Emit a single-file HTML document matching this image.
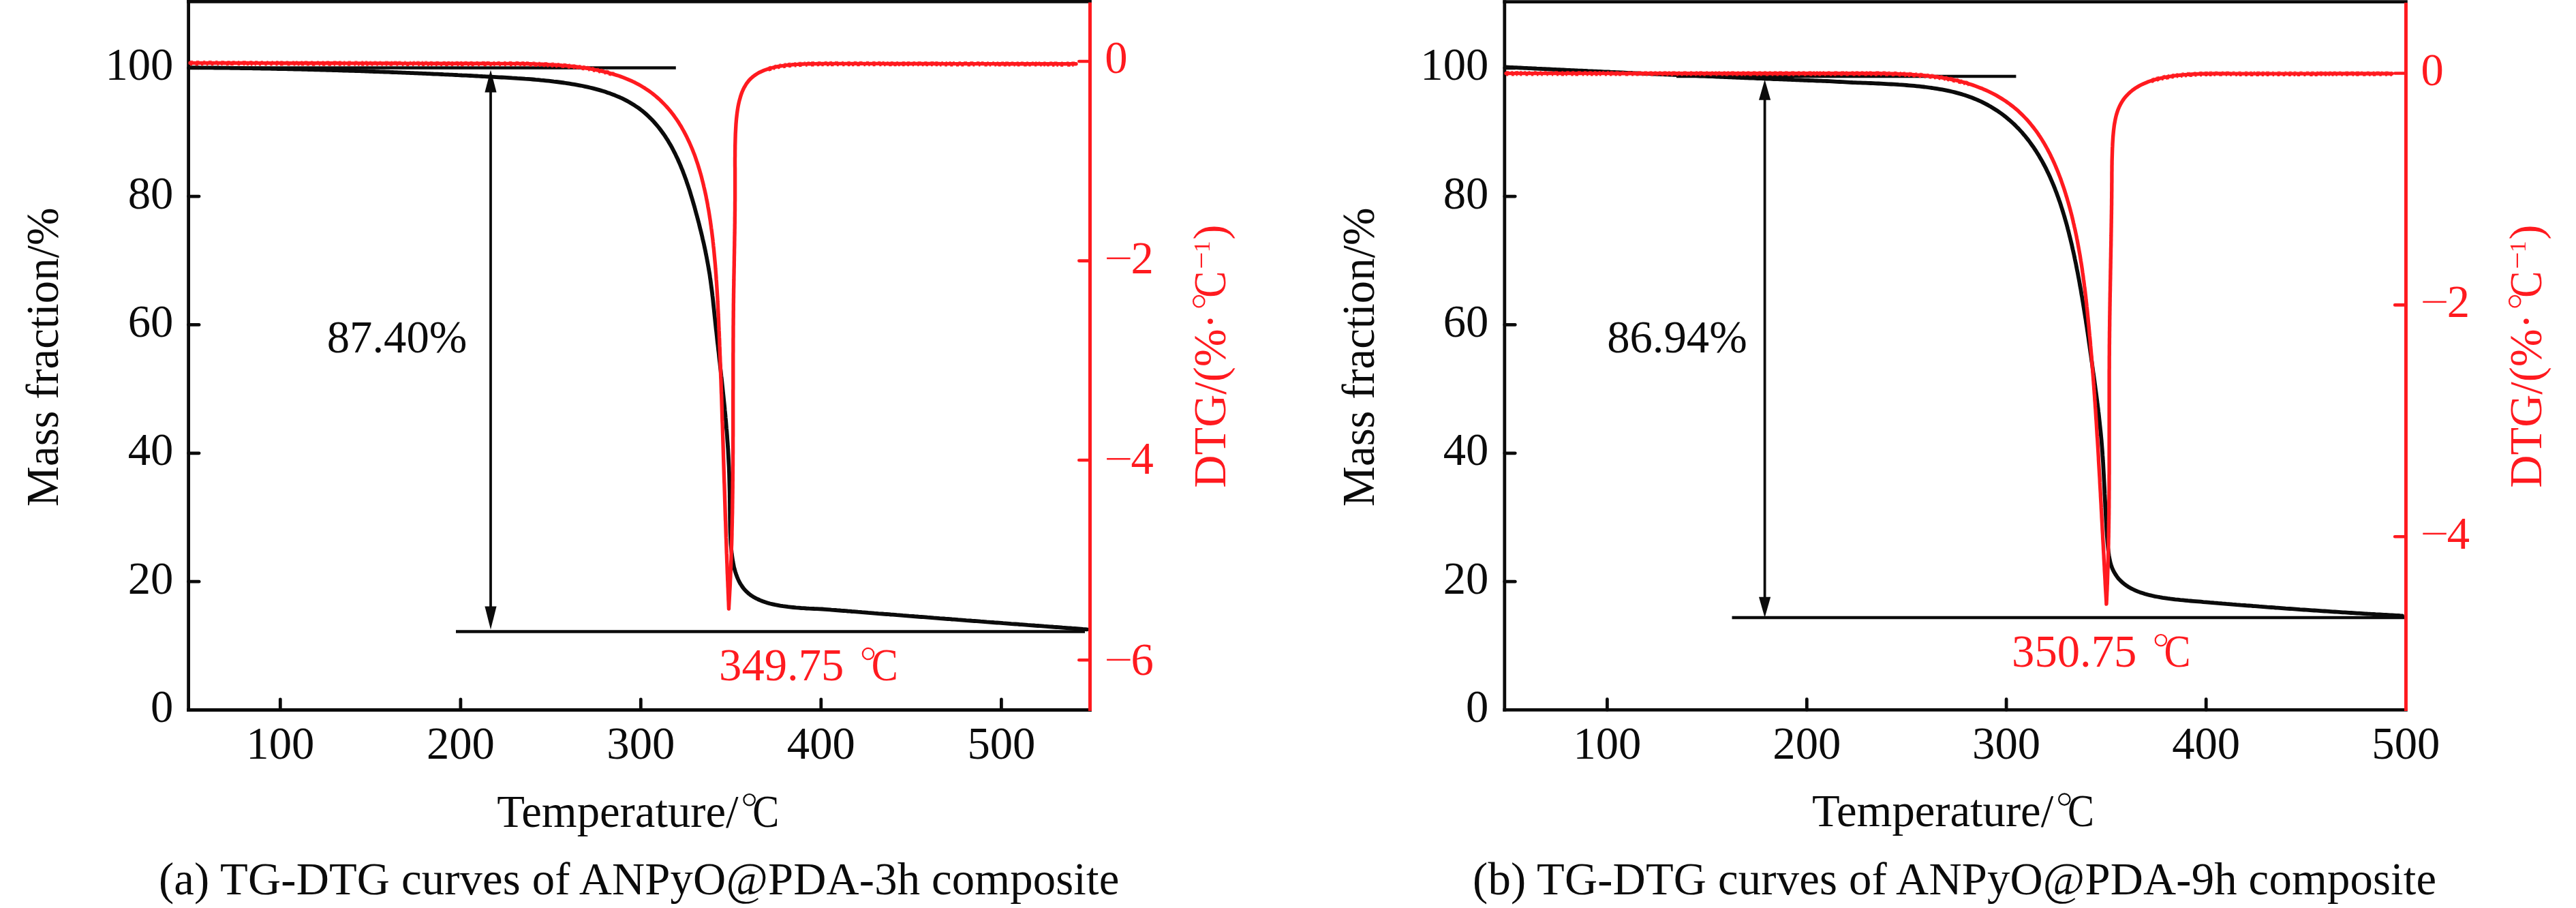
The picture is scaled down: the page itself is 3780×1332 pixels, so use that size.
<!DOCTYPE html>
<html><head><meta charset="utf-8"><title>TG-DTG curves</title><style>
html,body{margin:0;padding:0;background:#fff;overflow:hidden;width:3780px;height:1332px;}
svg{display:block;}
text{font-family:"Liberation Serif",serif;}
</style></head><body>
<svg width="3780" height="1332" viewBox="0 0 3780 1332">
<rect width="3780" height="1332" fill="#fff"/>
<g stroke-linecap="square" fill="none">
<line x1="276.60" y1="2.30" x2="1599.50" y2="2.30" stroke="#0b0b0b" stroke-width="4.80"/>
<line x1="276.60" y1="1041.50" x2="1599.50" y2="1041.50" stroke="#0b0b0b" stroke-width="4.80"/>
<line x1="276.60" y1="2.30" x2="276.60" y2="1041.50" stroke="#0b0b0b" stroke-width="4.80"/>
</g>
<line x1="1599.50" y1="3.80" x2="1599.50" y2="1043.00" stroke="#ff1a1f" stroke-width="4.80"/>
<g stroke="#0b0b0b" stroke-width="4.8" stroke-linecap="round">
<line x1="276.60" y1="853.15" x2="292.10" y2="853.15"/>
<line x1="276.60" y1="664.80" x2="292.10" y2="664.80"/>
<line x1="276.60" y1="476.45" x2="292.10" y2="476.45"/>
<line x1="276.60" y1="288.10" x2="292.10" y2="288.10"/>
<line x1="276.60" y1="99.75" x2="292.10" y2="99.75"/>
<line x1="411.30" y1="1041.50" x2="411.30" y2="1025.80"/>
<line x1="675.90" y1="1041.50" x2="675.90" y2="1025.80"/>
<line x1="940.30" y1="1041.50" x2="940.30" y2="1025.80"/>
<line x1="1204.80" y1="1041.50" x2="1204.80" y2="1025.80"/>
<line x1="1469.40" y1="1041.50" x2="1469.40" y2="1025.80"/>
</g>
<g stroke="#ff1a1f" stroke-width="4.6" stroke-linecap="round">
<line x1="1599.50" y1="90.00" x2="1583.30" y2="90.00"/>
<line x1="1599.50" y1="382.60" x2="1583.30" y2="382.60"/>
<line x1="1599.50" y1="675.00" x2="1583.30" y2="675.00"/>
<line x1="1599.50" y1="968.20" x2="1583.30" y2="968.20"/>
</g>
<text x="254.40" y="1059.10" fill="#0b0b0b" font-size="66.67" text-anchor="end">0</text>
<text x="254.40" y="870.75" fill="#0b0b0b" font-size="66.67" text-anchor="end">20</text>
<text x="254.40" y="682.40" fill="#0b0b0b" font-size="66.67" text-anchor="end">40</text>
<text x="254.40" y="494.05" fill="#0b0b0b" font-size="66.67" text-anchor="end">60</text>
<text x="254.40" y="305.70" fill="#0b0b0b" font-size="66.67" text-anchor="end">80</text>
<text x="254.40" y="117.35" fill="#0b0b0b" font-size="66.67" text-anchor="end">100</text>
<text x="411.30" y="1113.00" fill="#0b0b0b" font-size="66.67" text-anchor="middle">100</text>
<text x="675.90" y="1113.00" fill="#0b0b0b" font-size="66.67" text-anchor="middle">200</text>
<text x="940.30" y="1113.00" fill="#0b0b0b" font-size="66.67" text-anchor="middle">300</text>
<text x="1204.80" y="1113.00" fill="#0b0b0b" font-size="66.67" text-anchor="middle">400</text>
<text x="1469.40" y="1113.00" fill="#0b0b0b" font-size="66.67" text-anchor="middle">500</text>
<text x="1621.30" y="107.40" fill="#ff1a1f" font-size="66.67" text-anchor="start">0</text>
<rect x="1624.10" y="377.65" width="34.5" height="2.5" fill="#ff1a1f"/>
<text x="1659.60" y="401.00" fill="#ff1a1f" font-size="66.67" text-anchor="start">2</text>
<rect x="1624.10" y="671.95" width="34.5" height="2.5" fill="#ff1a1f"/>
<text x="1659.60" y="695.30" fill="#ff1a1f" font-size="66.67" text-anchor="start">4</text>
<rect x="1624.10" y="966.65" width="34.5" height="2.5" fill="#ff1a1f"/>
<text x="1659.60" y="990.00" fill="#ff1a1f" font-size="66.67" text-anchor="start">6</text>
<g stroke-linecap="square" fill="none">
<line x1="2207.80" y1="2.60" x2="3530.40" y2="2.60" stroke="#0b0b0b" stroke-width="4.80"/>
<line x1="2207.80" y1="1041.40" x2="3530.40" y2="1041.40" stroke="#0b0b0b" stroke-width="4.80"/>
<line x1="2207.80" y1="2.60" x2="2207.80" y2="1041.40" stroke="#0b0b0b" stroke-width="4.80"/>
</g>
<line x1="3530.40" y1="4.10" x2="3530.40" y2="1042.90" stroke="#ff1a1f" stroke-width="4.80"/>
<g stroke="#0b0b0b" stroke-width="4.8" stroke-linecap="round">
<line x1="2207.80" y1="853.15" x2="2223.30" y2="853.15"/>
<line x1="2207.80" y1="664.80" x2="2223.30" y2="664.80"/>
<line x1="2207.80" y1="476.45" x2="2223.30" y2="476.45"/>
<line x1="2207.80" y1="288.10" x2="2223.30" y2="288.10"/>
<line x1="2207.80" y1="99.75" x2="2223.30" y2="99.75"/>
<line x1="2358.40" y1="1041.40" x2="2358.40" y2="1025.70"/>
<line x1="2651.30" y1="1041.40" x2="2651.30" y2="1025.70"/>
<line x1="2944.10" y1="1041.40" x2="2944.10" y2="1025.70"/>
<line x1="3237.20" y1="1041.40" x2="3237.20" y2="1025.70"/>
</g>
<g stroke="#ff1a1f" stroke-width="4.6" stroke-linecap="round">
<line x1="3530.40" y1="107.50" x2="3514.20" y2="107.50"/>
<line x1="3530.40" y1="447.40" x2="3514.20" y2="447.40"/>
<line x1="3530.40" y1="787.30" x2="3514.20" y2="787.30"/>
</g>
<text x="2184.30" y="1059.10" fill="#0b0b0b" font-size="66.67" text-anchor="end">0</text>
<text x="2184.30" y="870.75" fill="#0b0b0b" font-size="66.67" text-anchor="end">20</text>
<text x="2184.30" y="682.40" fill="#0b0b0b" font-size="66.67" text-anchor="end">40</text>
<text x="2184.30" y="494.05" fill="#0b0b0b" font-size="66.67" text-anchor="end">60</text>
<text x="2184.30" y="305.70" fill="#0b0b0b" font-size="66.67" text-anchor="end">80</text>
<text x="2184.30" y="117.35" fill="#0b0b0b" font-size="66.67" text-anchor="end">100</text>
<text x="2358.40" y="1113.00" fill="#0b0b0b" font-size="66.67" text-anchor="middle">100</text>
<text x="2651.30" y="1113.00" fill="#0b0b0b" font-size="66.67" text-anchor="middle">200</text>
<text x="2944.10" y="1113.00" fill="#0b0b0b" font-size="66.67" text-anchor="middle">300</text>
<text x="3237.20" y="1113.00" fill="#0b0b0b" font-size="66.67" text-anchor="middle">400</text>
<text x="3530.30" y="1113.00" fill="#0b0b0b" font-size="66.67" text-anchor="middle">500</text>
<text x="3552.50" y="125.00" fill="#ff1a1f" font-size="66.67" text-anchor="start">0</text>
<rect x="3555.30" y="441.65" width="34.5" height="2.5" fill="#ff1a1f"/>
<text x="3590.80" y="465.00" fill="#ff1a1f" font-size="66.67" text-anchor="start">2</text>
<rect x="3555.30" y="781.65" width="34.5" height="2.5" fill="#ff1a1f"/>
<text x="3590.80" y="805.00" fill="#ff1a1f" font-size="66.67" text-anchor="start">4</text>
<g stroke="#0b0b0b" stroke-width="4.5" stroke-linecap="butt">
<line x1="279" y1="99.4" x2="991.8" y2="99.4"/>
<line x1="669" y1="926.4" x2="1592" y2="926.4"/>
<line x1="2460" y1="112.1" x2="2958.4" y2="112.1"/>
<line x1="2541.5" y1="906.1" x2="3528" y2="906.1"/>
</g>
<path d="M279.0,99.1 L282.0,99.2 L285.0,99.2 L288.0,99.2 L291.0,99.2 L294.0,99.3 L297.0,99.3 L300.0,99.3 L303.0,99.3 L306.0,99.4 L309.0,99.4 L312.0,99.4 L315.0,99.5 L318.0,99.5 L321.0,99.5 L324.0,99.6 L327.0,99.6 L330.0,99.7 L333.0,99.7 L336.0,99.7 L339.0,99.8 L342.0,99.8 L345.0,99.9 L348.0,99.9 L351.0,99.9 L354.0,100.0 L357.0,100.0 L360.0,100.1 L363.0,100.1 L366.0,100.2 L369.0,100.2 L372.0,100.3 L375.0,100.3 L378.0,100.4 L381.0,100.4 L384.0,100.5 L387.0,100.6 L390.0,100.6 L393.0,100.7 L396.0,100.7 L399.0,100.8 L402.0,100.8 L405.0,100.9 L408.0,101.0 L411.0,101.0 L414.0,101.1 L417.0,101.2 L420.0,101.2 L423.0,101.3 L426.0,101.4 L429.0,101.4 L432.0,101.5 L435.0,101.6 L438.0,101.6 L441.0,101.7 L444.0,101.8 L447.0,101.9 L450.0,101.9 L453.0,102.0 L456.0,102.1 L459.0,102.2 L462.0,102.3 L465.0,102.3 L468.0,102.4 L471.0,102.5 L474.0,102.6 L477.0,102.7 L480.0,102.8 L483.0,102.8 L486.0,102.9 L489.0,103.0 L492.0,103.1 L495.0,103.2 L498.0,103.3 L501.0,103.4 L504.0,103.5 L507.0,103.6 L510.0,103.7 L513.0,103.8 L516.0,103.8 L519.0,103.9 L522.0,104.0 L525.0,104.1 L528.0,104.2 L531.0,104.3 L534.0,104.4 L537.0,104.5 L540.0,104.7 L543.0,104.8 L546.0,104.9 L549.0,105.0 L552.0,105.1 L555.0,105.2 L558.0,105.3 L561.0,105.4 L564.0,105.5 L567.0,105.6 L570.0,105.7 L573.0,105.9 L576.0,106.0 L579.0,106.1 L582.0,106.2 L585.0,106.3 L588.0,106.4 L591.0,106.6 L594.0,106.7 L597.0,106.8 L600.0,106.9 L603.0,107.1 L606.0,107.2 L609.0,107.3 L612.0,107.4 L615.0,107.6 L618.0,107.7 L621.0,107.8 L624.0,107.9 L627.0,108.1 L630.0,108.2 L633.0,108.3 L636.0,108.5 L639.0,108.6 L642.0,108.7 L645.0,108.9 L648.0,109.0 L651.0,109.2 L654.0,109.3 L657.0,109.4 L660.0,109.6 L663.0,109.7 L666.0,109.9 L669.0,110.0 L672.0,110.2 L675.0,110.3 L678.0,110.5 L681.0,110.6 L684.0,110.7 L687.0,110.9 L690.0,111.0 L693.0,111.2 L696.0,111.4 L699.0,111.5 L702.0,111.7 L705.0,111.8 L708.0,112.0 L711.0,112.1 L714.0,112.3 L717.0,112.5 L720.8,112.7 L724.6,112.9 L728.4,113.1 L732.3,113.3 L736.1,113.5 L739.9,113.7 L743.8,113.9 L747.6,114.1 L751.5,114.4 L755.3,114.6 L759.1,114.9 L763.0,115.1 L766.8,115.4 L770.6,115.7 L774.5,115.9 L778.3,116.2 L782.1,116.5 L785.9,116.9 L789.8,117.2 L793.6,117.6 L797.4,117.9 L801.2,118.3 L805.1,118.7 L808.9,119.1 L812.7,119.6 L816.5,120.0 L820.3,120.5 L824.1,121.0 L827.9,121.5 L831.7,122.1 L835.5,122.7 L839.3,123.3 L843.1,123.9 L846.9,124.6 L850.7,125.3 L854.5,126.0 L858.2,126.8 L862.0,127.6 L865.7,128.5 L869.4,129.4 L873.2,130.4 L876.9,131.4 L880.6,132.4 L884.3,133.5 L887.9,134.6 L891.6,135.9 L895.2,137.1 L898.8,138.5 L902.4,139.8 L905.9,141.3 L909.5,142.8 L913.0,144.4 L916.4,146.1 L919.8,147.9 L923.2,149.7 L926.5,151.7 L929.8,153.7 L933.0,155.8 L936.2,157.9 L939.3,160.2 L942.3,162.6 L945.3,165.0 L948.2,167.5 L951.0,170.1 L953.8,172.8 L956.5,175.5 L959.1,178.3 L961.7,181.2 L964.2,184.1 L966.6,187.0 L969.0,190.1 L971.3,193.2 L973.5,196.3 L975.7,199.4 L977.8,202.7 L979.9,205.9 L981.8,209.2 L983.8,212.5 L985.7,215.9 L987.5,219.3 L989.2,222.7 L991.0,226.1 L992.6,229.6 L994.3,233.0 L995.8,236.5 L997.4,240.1 L998.9,243.6 L1000.3,247.2 L1001.8,250.7 L1003.1,254.3 L1004.5,257.9 L1005.8,261.5 L1007.1,265.1 L1008.3,268.8 L1009.6,272.4 L1010.8,276.1 L1012.0,279.7 L1013.1,283.4 L1014.2,287.1 L1015.3,290.7 L1016.4,294.4 L1017.5,298.1 L1018.6,301.8 L1019.6,305.5 L1020.6,309.2 L1021.6,312.9 L1022.6,316.6 L1023.6,320.3 L1024.6,324.1 L1025.6,327.8 L1026.5,331.5 L1027.4,335.2 L1028.4,339.0 L1029.3,342.7 L1030.2,346.4 L1031.0,350.2 L1031.9,353.9 L1032.8,357.7 L1033.6,361.4 L1034.4,365.2 L1035.2,368.9 L1035.9,372.7 L1036.7,376.5 L1037.4,380.2 L1038.1,384.0 L1038.8,387.8 L1039.5,391.6 L1040.1,395.4 L1040.8,399.2 L1041.4,402.9 L1041.9,406.7 L1042.5,410.5 L1043.0,414.4 L1043.5,418.2 L1044.0,422.0 L1044.5,425.8 L1045.0,429.6 L1045.4,433.4 L1045.9,437.2 L1046.3,441.0 L1046.7,444.9 L1047.1,448.7 L1047.5,452.5 L1047.9,456.3 L1048.3,460.1 L1048.7,464.0 L1049.1,467.8 L1049.5,471.6 L1049.9,475.4 L1050.3,479.3 L1050.7,483.1 L1051.2,486.9 L1051.6,490.7 L1052.0,494.5 L1052.4,498.4 L1052.8,502.2 L1053.3,506.0 L1053.7,509.8 L1054.1,513.6 L1054.6,517.4 L1055.0,521.3 L1055.4,525.1 L1055.8,528.9 L1056.3,532.7 L1056.7,536.5 L1057.1,540.4 L1057.6,544.2 L1058.0,548.0 L1058.4,551.8 L1058.9,555.6 L1059.3,559.4 L1059.7,563.3 L1060.1,567.1 L1060.5,570.9 L1060.9,574.7 L1061.3,578.5 L1061.7,582.4 L1062.1,586.2 L1062.5,590.0 L1062.9,593.8 L1063.3,597.7 L1063.6,601.5 L1064.0,605.3 L1064.4,609.1 L1064.7,613.0 L1065.1,616.8 L1065.4,620.6 L1065.7,624.4 L1066.0,628.3 L1066.4,632.1 L1066.7,635.9 L1067.0,639.8 L1067.2,643.6 L1067.5,647.4 L1067.8,651.3 L1068.0,655.1 L1068.3,658.9 L1068.5,662.8 L1068.7,666.6 L1068.9,670.4 L1069.1,674.3 L1069.3,678.1 L1069.5,681.9 L1069.7,685.8 L1069.8,689.6 L1070.0,693.5 L1070.1,697.3 L1070.2,701.1 L1070.3,705.0 L1070.4,708.8 L1070.5,712.7 L1070.6,716.5 L1070.7,720.4 L1070.8,724.2 L1070.8,728.0 L1070.9,731.9 L1070.9,735.7 L1071.0,739.6 L1071.0,743.4 L1071.0,747.2 L1071.1,751.1 L1071.1,754.9 L1071.1,758.8 L1071.2,762.6 L1071.3,766.5 L1071.3,770.3 L1071.4,774.1 L1071.5,778.0 L1071.6,781.8 L1071.8,785.7 L1072.0,789.5 L1072.2,793.3 L1072.4,797.2 L1072.7,801.0 L1073.0,804.8 L1073.4,808.7 L1073.8,812.5 L1074.3,816.3 L1074.9,820.1 L1075.5,823.9 L1076.2,827.6 L1077.0,831.4 L1077.9,835.1 L1079.0,838.8 L1080.2,842.5 L1081.5,846.1 L1083.0,849.6 L1084.6,853.1 L1086.5,856.5 L1088.6,859.7 L1090.8,862.8 L1093.3,865.7 L1096.0,868.4 L1098.9,871.0 L1102.0,873.3 L1105.2,875.4 L1108.5,877.3 L1112.0,879.0 L1115.5,880.6 L1119.0,882.0 L1122.7,883.3 L1126.3,884.4 L1130.0,885.5 L1133.8,886.4 L1137.5,887.2 L1141.3,887.9 L1145.1,888.6 L1148.9,889.2 L1152.7,889.7 L1156.5,890.2 L1160.3,890.6 L1164.1,891.0 L1168.0,891.4 L1171.8,891.7 L1175.6,892.0 L1179.5,892.2 L1183.3,892.5 L1187.1,892.7 L1191.0,892.8 L1194.8,893.0 L1198.6,893.1 L1202.5,893.3 L1206.3,893.5 L1210.1,893.8 L1214.0,894.1 L1217.8,894.4 L1220.0,894.6 L1223.0,894.8 L1226.0,895.0 L1229.0,895.3 L1232.0,895.5 L1235.0,895.8 L1238.0,896.0 L1241.0,896.2 L1244.0,896.5 L1247.0,896.7 L1250.0,897.0 L1253.0,897.2 L1256.0,897.4 L1259.0,897.7 L1262.0,897.9 L1265.0,898.2 L1268.0,898.4 L1271.0,898.6 L1274.0,898.9 L1277.0,899.1 L1280.0,899.3 L1283.0,899.6 L1286.0,899.8 L1289.0,900.1 L1292.0,900.3 L1295.0,900.5 L1298.0,900.8 L1301.0,901.0 L1304.0,901.2 L1307.0,901.5 L1310.0,901.7 L1313.0,901.9 L1316.0,902.2 L1319.0,902.4 L1322.0,902.6 L1325.0,902.9 L1328.0,903.1 L1331.0,903.3 L1334.0,903.6 L1337.0,903.8 L1340.0,904.0 L1343.0,904.3 L1346.0,904.5 L1349.0,904.8 L1352.0,905.0 L1355.0,905.2 L1358.0,905.4 L1361.0,905.7 L1364.0,905.9 L1367.0,906.1 L1370.0,906.4 L1373.0,906.6 L1376.0,906.8 L1379.0,907.1 L1382.0,907.3 L1385.0,907.5 L1388.0,907.8 L1391.0,908.0 L1394.0,908.2 L1397.0,908.5 L1400.0,908.7 L1403.0,908.9 L1406.0,909.2 L1409.0,909.4 L1412.0,909.6 L1415.0,909.8 L1418.0,910.1 L1421.0,910.3 L1424.0,910.5 L1427.0,910.8 L1430.0,911.0 L1433.0,911.2 L1436.0,911.4 L1439.0,911.7 L1442.0,911.9 L1445.0,912.1 L1448.0,912.4 L1451.0,912.6 L1454.0,912.8 L1457.0,913.0 L1460.0,913.3 L1463.0,913.5 L1466.0,913.7 L1469.0,913.9 L1472.0,914.2 L1475.0,914.4 L1478.0,914.6 L1481.0,914.8 L1484.0,915.1 L1487.0,915.3 L1490.0,915.5 L1493.0,915.7 L1496.0,916.0 L1499.0,916.2 L1502.0,916.4 L1505.0,916.6 L1508.0,916.9 L1511.0,917.1 L1514.0,917.3 L1517.0,917.5 L1520.0,917.8 L1523.0,918.0 L1526.0,918.2 L1529.0,918.4 L1532.0,918.7 L1535.0,918.9 L1538.0,919.1 L1541.0,919.3 L1544.0,919.5 L1547.0,919.8 L1550.0,920.0 L1553.0,920.2 L1556.0,920.4 L1559.0,920.7 L1562.0,920.9 L1565.0,921.1 L1568.0,921.3 L1571.0,921.5 L1574.0,921.8 L1577.0,922.0 L1580.0,922.2 L1583.0,922.4 L1586.0,922.6 L1589.0,922.9 L1592.0,923.1 L1595.0,923.3" fill="none" stroke="#0b0b0b" stroke-width="5.80" stroke-linejoin="round" stroke-linecap="round"/>
<path d="M2210.0,98.5 L2213.0,98.6 L2216.0,98.8 L2219.0,98.9 L2222.0,99.1 L2225.0,99.2 L2228.0,99.4 L2231.0,99.5 L2234.0,99.6 L2237.0,99.8 L2240.0,99.9 L2243.0,100.1 L2246.0,100.2 L2249.0,100.4 L2252.0,100.5 L2255.0,100.7 L2258.0,100.8 L2261.0,100.9 L2264.0,101.1 L2267.0,101.2 L2270.0,101.4 L2273.0,101.5 L2276.0,101.6 L2279.0,101.8 L2282.0,101.9 L2285.0,102.1 L2288.0,102.2 L2291.0,102.4 L2294.0,102.5 L2297.0,102.6 L2300.0,102.8 L2303.0,102.9 L2306.0,103.1 L2309.0,103.2 L2312.0,103.3 L2315.0,103.5 L2318.0,103.6 L2321.0,103.7 L2324.0,103.9 L2327.0,104.0 L2330.0,104.2 L2333.0,104.3 L2336.0,104.4 L2339.0,104.6 L2342.0,104.7 L2345.0,104.9 L2348.0,105.0 L2351.0,105.1 L2354.0,105.3 L2357.0,105.4 L2360.0,105.5 L2363.0,105.7 L2366.0,105.8 L2369.0,105.9 L2372.0,106.1 L2375.0,106.2 L2378.0,106.4 L2381.0,106.5 L2384.0,106.6 L2387.0,106.8 L2390.0,106.9 L2393.0,107.0 L2396.0,107.2 L2399.0,107.3 L2402.0,107.4 L2405.0,107.6 L2408.0,107.7 L2411.0,107.8 L2414.0,108.0 L2417.0,108.1 L2420.0,108.2 L2423.0,108.4 L2426.0,108.5 L2429.0,108.6 L2432.0,108.8 L2435.0,108.9 L2438.0,109.0 L2441.0,109.1 L2444.0,109.3 L2447.0,109.4 L2450.0,109.5 L2453.0,109.7 L2456.0,109.8 L2459.0,109.9 L2462.0,110.1 L2465.0,110.2 L2468.0,110.3 L2471.0,110.5 L2474.0,110.6 L2477.0,110.7 L2480.0,110.8 L2483.0,111.0 L2486.0,111.1 L2489.0,111.2 L2492.0,111.4 L2495.0,111.5 L2498.0,111.6 L2501.0,111.7 L2504.0,111.9 L2507.0,112.0 L2510.0,112.1 L2513.0,112.2 L2516.0,112.4 L2519.0,112.5 L2522.0,112.6 L2525.0,112.8 L2528.0,112.9 L2531.0,113.0 L2534.0,113.1 L2537.0,113.3 L2540.0,113.4 L2543.0,113.5 L2546.0,113.6 L2549.0,113.8 L2552.0,113.9 L2555.0,114.0 L2558.0,114.1 L2561.0,114.3 L2564.0,114.4 L2567.0,114.5 L2570.0,114.6 L2573.0,114.7 L2576.0,114.9 L2579.0,115.0 L2582.0,115.1 L2585.0,115.2 L2588.0,115.4 L2591.0,115.5 L2594.0,115.6 L2597.0,115.7 L2600.0,115.8 L2603.0,116.0 L2606.0,116.1 L2609.0,116.2 L2612.0,116.3 L2615.0,116.4 L2618.0,116.6 L2621.0,116.7 L2624.0,116.8 L2627.0,116.9 L2630.0,117.0 L2633.0,117.2 L2636.0,117.3 L2639.0,117.4 L2642.0,117.5 L2645.0,117.6 L2648.0,117.8 L2651.0,117.9 L2654.0,118.0 L2657.0,118.1 L2660.0,118.2 L2663.0,118.4 L2666.0,118.5 L2669.0,118.6 L2672.0,118.7 L2675.0,118.8 L2678.0,118.9 L2680.8,119.0 L2684.6,119.2 L2688.3,119.4 L2692.1,119.6 L2695.9,119.8 L2699.6,120.0 L2703.4,120.2 L2707.2,120.4 L2710.9,120.6 L2714.7,120.8 L2718.5,121.0 L2722.2,121.1 L2726.0,121.3 L2729.8,121.4 L2733.6,121.6 L2737.3,121.7 L2741.1,121.9 L2744.9,122.0 L2748.6,122.2 L2752.4,122.4 L2756.2,122.5 L2759.9,122.7 L2763.7,122.9 L2767.5,123.1 L2771.2,123.3 L2775.0,123.5 L2778.8,123.7 L2782.5,123.9 L2786.3,124.2 L2790.1,124.4 L2793.8,124.7 L2797.6,125.0 L2801.3,125.3 L2805.1,125.6 L2808.8,125.9 L2812.6,126.3 L2816.4,126.7 L2820.1,127.1 L2823.9,127.5 L2827.6,128.0 L2831.3,128.5 L2835.1,129.0 L2838.8,129.6 L2842.5,130.2 L2846.2,130.8 L2850.0,131.4 L2853.7,132.1 L2857.4,132.9 L2861.0,133.7 L2864.7,134.5 L2868.4,135.4 L2872.0,136.4 L2875.7,137.4 L2879.3,138.4 L2882.9,139.5 L2886.5,140.7 L2890.0,142.0 L2893.6,143.3 L2897.1,144.7 L2900.6,146.1 L2904.0,147.7 L2907.4,149.2 L2910.8,150.9 L2914.2,152.6 L2917.5,154.4 L2920.8,156.3 L2924.0,158.2 L2927.2,160.2 L2930.4,162.2 L2933.5,164.3 L2936.6,166.5 L2939.6,168.8 L2942.6,171.1 L2945.5,173.5 L2948.4,175.9 L2951.2,178.4 L2954.0,180.9 L2956.8,183.5 L2959.4,186.2 L2962.1,188.9 L2964.6,191.6 L2967.2,194.4 L2969.6,197.3 L2972.1,200.2 L2974.4,203.1 L2976.8,206.1 L2979.0,209.1 L2981.2,212.2 L2983.4,215.2 L2985.5,218.4 L2987.6,221.5 L2989.6,224.7 L2991.6,227.9 L2993.5,231.2 L2995.4,234.4 L2997.2,237.7 L2999.0,241.0 L3000.8,244.4 L3002.5,247.7 L3004.1,251.1 L3005.8,254.5 L3007.4,257.9 L3008.9,261.4 L3010.4,264.8 L3011.9,268.3 L3013.4,271.8 L3014.8,275.3 L3016.1,278.8 L3017.5,282.3 L3018.8,285.9 L3020.1,289.4 L3021.3,293.0 L3022.6,296.5 L3023.8,300.1 L3024.9,303.7 L3026.1,307.3 L3027.2,310.9 L3028.3,314.5 L3029.4,318.1 L3030.4,321.7 L3031.5,325.4 L3032.5,329.0 L3033.5,332.6 L3034.4,336.3 L3035.4,339.9 L3036.3,343.6 L3037.2,347.2 L3038.1,350.9 L3039.0,354.6 L3039.9,358.2 L3040.7,361.9 L3041.5,365.6 L3042.4,369.3 L3043.2,373.0 L3044.0,376.6 L3044.7,380.3 L3045.5,384.0 L3046.3,387.7 L3047.0,391.4 L3047.7,395.1 L3048.5,398.8 L3049.2,402.5 L3049.9,406.2 L3050.6,409.9 L3051.3,413.6 L3051.9,417.4 L3052.6,421.1 L3053.3,424.8 L3053.9,428.5 L3054.5,432.2 L3055.2,435.9 L3055.8,439.7 L3056.4,443.4 L3057.0,447.1 L3057.6,450.8 L3058.2,454.5 L3058.8,458.3 L3059.4,462.0 L3060.0,465.7 L3060.6,469.4 L3061.1,473.2 L3061.7,476.9 L3062.3,480.6 L3062.8,484.4 L3063.4,488.1 L3063.9,491.8 L3064.5,495.6 L3065.0,499.3 L3065.5,503.0 L3066.1,506.8 L3066.6,510.5 L3067.1,514.2 L3067.7,518.0 L3068.2,521.7 L3068.7,525.4 L3069.2,529.2 L3069.8,532.9 L3070.3,536.6 L3070.8,540.4 L3071.3,544.1 L3071.8,547.8 L3072.4,551.6 L3072.9,555.3 L3073.4,559.0 L3073.9,562.8 L3074.4,566.5 L3074.9,570.3 L3075.4,574.0 L3075.9,577.7 L3076.4,581.5 L3076.9,585.2 L3077.4,589.0 L3077.8,592.7 L3078.3,596.4 L3078.8,600.2 L3079.2,603.9 L3079.7,607.7 L3080.1,611.4 L3080.5,615.2 L3080.9,618.9 L3081.3,622.7 L3081.7,626.4 L3082.1,630.2 L3082.5,633.9 L3082.9,637.7 L3083.2,641.4 L3083.6,645.2 L3083.9,648.9 L3084.2,652.7 L3084.5,656.5 L3084.8,660.2 L3085.1,664.0 L3085.3,667.7 L3085.6,671.5 L3085.8,675.3 L3086.1,679.0 L3086.3,682.8 L3086.5,686.6 L3086.7,690.3 L3086.9,694.1 L3087.1,697.9 L3087.3,701.6 L3087.5,705.4 L3087.7,709.2 L3087.9,712.9 L3088.1,716.7 L3088.3,720.5 L3088.4,724.2 L3088.6,728.0 L3088.8,731.8 L3089.0,735.5 L3089.2,739.3 L3089.3,743.1 L3089.5,746.8 L3089.7,750.6 L3089.9,754.4 L3090.1,758.1 L3090.3,761.9 L3090.5,765.7 L3090.8,769.4 L3091.0,773.2 L3091.2,777.0 L3091.5,780.7 L3091.7,784.5 L3092.0,788.2 L3092.3,792.0 L3092.6,795.8 L3092.9,799.5 L3093.2,803.3 L3093.6,807.0 L3094.1,810.8 L3094.6,814.5 L3095.2,818.2 L3096.0,821.9 L3096.8,825.6 L3097.9,829.2 L3099.2,832.8 L3100.6,836.2 L3102.4,839.6 L3104.3,842.8 L3106.5,845.9 L3108.8,848.9 L3111.4,851.6 L3114.1,854.2 L3117.0,856.6 L3120.1,858.8 L3123.2,860.9 L3126.5,862.8 L3129.9,864.5 L3133.3,866.1 L3136.8,867.6 L3140.3,868.9 L3143.9,870.1 L3147.5,871.2 L3151.1,872.2 L3154.8,873.2 L3158.4,874.0 L3162.1,874.8 L3165.8,875.5 L3169.5,876.2 L3173.3,876.8 L3177.0,877.3 L3180.7,877.9 L3184.5,878.4 L3188.2,878.8 L3191.9,879.3 L3195.7,879.7 L3199.4,880.1 L3203.2,880.4 L3207.0,880.8 L3210.7,881.2 L3214.5,881.5 L3218.2,881.8 L3222.0,882.1 L3225.7,882.4 L3229.5,882.7 L3233.2,883.1 L3237.0,883.4 L3240.0,883.6 L3243.0,883.9 L3246.0,884.1 L3249.0,884.4 L3252.0,884.6 L3255.0,884.9 L3258.0,885.1 L3261.0,885.4 L3264.0,885.6 L3267.0,885.9 L3270.0,886.1 L3273.0,886.3 L3276.0,886.6 L3279.0,886.8 L3282.0,887.1 L3285.0,887.3 L3288.0,887.6 L3291.0,887.8 L3294.0,888.0 L3297.0,888.3 L3300.0,888.5 L3303.0,888.7 L3306.0,889.0 L3309.0,889.2 L3312.0,889.4 L3315.0,889.7 L3318.0,889.9 L3321.0,890.1 L3324.0,890.3 L3327.0,890.6 L3330.0,890.8 L3333.0,891.0 L3336.0,891.2 L3339.0,891.5 L3342.0,891.7 L3345.0,891.9 L3348.0,892.1 L3351.0,892.3 L3354.0,892.6 L3357.0,892.8 L3360.0,893.0 L3363.0,893.2 L3366.0,893.4 L3369.0,893.6 L3372.0,893.8 L3375.0,894.1 L3378.0,894.3 L3381.0,894.5 L3384.0,894.7 L3387.0,894.9 L3390.0,895.1 L3393.0,895.3 L3396.0,895.5 L3399.0,895.7 L3402.0,895.9 L3405.0,896.1 L3408.0,896.3 L3411.0,896.5 L3414.0,896.7 L3417.0,896.9 L3420.0,897.1 L3423.0,897.3 L3426.0,897.5 L3429.0,897.7 L3432.0,897.9 L3435.0,898.1 L3438.0,898.3 L3441.0,898.4 L3444.0,898.6 L3447.0,898.8 L3450.0,899.0 L3453.0,899.2 L3456.0,899.4 L3459.0,899.6 L3462.0,899.7 L3465.0,899.9 L3468.0,900.1 L3471.0,900.3 L3474.0,900.5 L3477.0,900.6 L3480.0,900.8 L3483.0,901.0 L3486.0,901.2 L3489.0,901.3 L3492.0,901.5 L3495.0,901.7 L3498.0,901.9 L3501.0,902.0 L3504.0,902.2 L3507.0,902.4 L3510.0,902.5 L3513.0,902.7 L3516.0,902.9 L3519.0,903.0 L3522.0,903.2 L3525.0,903.3" fill="none" stroke="#0b0b0b" stroke-width="5.80" stroke-linejoin="round" stroke-linecap="round"/>
<path d="M279.0,92.3 L282.0,92.4 L285.0,92.4 L288.0,92.4 L291.0,92.4 L294.0,92.4 L297.0,92.4 L300.0,92.4 L303.0,92.4 L306.0,92.4 L309.0,92.4 L312.0,92.4 L315.0,92.4 L318.0,92.4 L321.0,92.4 L324.0,92.4 L327.0,92.5 L330.0,92.5 L333.0,92.5 L336.0,92.5 L339.0,92.5 L342.0,92.5 L345.0,92.5 L348.0,92.5 L351.0,92.5 L354.0,92.5 L357.0,92.5 L360.0,92.5 L363.0,92.5 L366.0,92.5 L369.0,92.6 L372.0,92.6 L375.0,92.6 L378.0,92.6 L381.0,92.6 L384.0,92.6 L387.0,92.6 L390.0,92.6 L393.0,92.6 L396.0,92.6 L399.0,92.6 L402.0,92.6 L405.0,92.6 L408.0,92.6 L411.0,92.6 L414.0,92.7 L417.0,92.7 L420.0,92.7 L423.0,92.7 L426.0,92.7 L429.0,92.7 L432.0,92.7 L435.0,92.7 L438.0,92.7 L441.0,92.7 L444.0,92.7 L447.0,92.7 L450.0,92.7 L453.0,92.7 L456.0,92.8 L459.0,92.8 L462.0,92.8 L465.0,92.8 L468.0,92.8 L471.0,92.8 L474.0,92.8 L477.0,92.8 L480.0,92.8 L483.0,92.8 L486.0,92.8 L489.0,92.8 L492.0,92.8 L495.0,92.8 L498.0,92.8 L501.0,92.9 L504.0,92.9 L507.0,92.9 L510.0,92.9 L513.0,92.9 L516.0,92.9 L519.0,92.9 L522.0,92.9 L525.0,92.9 L528.0,92.9 L531.0,92.9 L534.0,92.9 L537.0,92.9 L540.0,92.9 L543.0,93.0 L546.0,93.0 L549.0,93.0 L552.0,93.0 L555.0,93.0 L558.0,93.0 L561.0,93.0 L564.0,93.0 L567.0,93.0 L570.0,93.0 L573.0,93.0 L576.0,93.0 L579.0,93.0 L582.0,93.0 L585.0,93.0 L588.0,93.1 L591.0,93.1 L594.0,93.1 L597.0,93.1 L600.0,93.1 L603.0,93.1 L606.0,93.1 L609.0,93.1 L612.0,93.1 L615.0,93.1 L618.0,93.1 L621.0,93.1 L624.0,93.1 L627.0,93.1 L630.0,93.2 L633.0,93.2 L636.0,93.2 L639.0,93.2 L642.0,93.2 L645.0,93.2 L648.0,93.2 L651.0,93.2 L654.0,93.2 L657.0,93.2 L660.0,93.2 L663.0,93.2 L666.0,93.2 L669.0,93.2 L672.0,93.2 L675.0,93.3 L678.0,93.3 L681.0,93.3 L684.0,93.3 L687.0,93.3 L690.0,93.3 L693.0,93.3 L696.0,93.3 L699.0,93.3 L702.0,93.3 L705.0,93.3 L708.0,93.3 L711.0,93.3 L714.0,93.3 L717.0,93.4 L720.0,93.4 L723.0,93.4 L726.0,93.4 L729.0,93.4 L732.0,93.4 L735.0,93.4 L738.0,93.4 L741.0,93.4 L744.0,93.4 L747.0,93.4 L752.9,93.4 L756.2,93.4 L759.4,93.4 L762.7,93.5 L766.0,93.5 L769.2,93.5 L772.5,93.6 L775.8,93.7 L779.0,93.8 L782.3,93.9 L785.6,94.0 L788.8,94.1 L792.1,94.2 L795.3,94.3 L798.6,94.5 L801.9,94.6 L805.1,94.8 L808.4,94.9 L811.7,95.1 L814.9,95.3 L818.2,95.5 L821.4,95.7 L824.7,96.0 L827.9,96.2 L831.2,96.5 L834.4,96.8 L837.7,97.1 L840.9,97.5 L844.2,97.8 L847.4,98.2 L850.7,98.6 L853.9,99.1 L857.1,99.5 L860.4,100.0 L863.6,100.5 L866.8,101.1 L870.0,101.6 L873.2,102.3 L876.4,102.9 L879.6,103.6 L882.8,104.3 L886.0,105.0 L889.2,105.8 L892.3,106.6 L895.5,107.5 L898.6,108.4 L901.7,109.3 L904.9,110.3 L908.0,111.3 L911.0,112.4 L914.1,113.5 L917.2,114.7 L920.2,115.9 L923.2,117.2 L926.2,118.5 L929.1,119.9 L932.1,121.3 L935.0,122.8 L937.9,124.4 L940.7,126.0 L943.5,127.7 L946.3,129.4 L949.0,131.2 L951.7,133.0 L954.3,134.9 L957.0,136.9 L959.5,138.9 L962.1,141.0 L964.5,143.1 L967.0,145.3 L969.4,147.5 L971.7,149.8 L974.0,152.1 L976.3,154.5 L978.5,156.9 L980.6,159.3 L982.7,161.8 L984.8,164.3 L986.8,166.9 L988.8,169.5 L990.7,172.2 L992.5,174.8 L994.4,177.5 L996.2,180.3 L997.9,183.1 L999.6,185.8 L1001.2,188.7 L1002.8,191.5 L1004.4,194.4 L1005.9,197.3 L1007.4,200.2 L1008.8,203.1 L1010.2,206.1 L1011.6,209.0 L1012.9,212.0 L1014.2,215.0 L1015.5,218.0 L1016.7,221.0 L1017.9,224.1 L1019.1,227.1 L1020.2,230.2 L1021.3,233.3 L1022.3,236.4 L1023.4,239.5 L1024.4,242.6 L1025.3,245.7 L1026.3,248.8 L1027.2,252.0 L1028.1,255.1 L1029.0,258.2 L1029.8,261.4 L1030.6,264.6 L1031.4,267.7 L1032.2,270.9 L1032.9,274.1 L1033.7,277.3 L1034.4,280.4 L1035.1,283.6 L1035.8,286.8 L1036.4,290.0 L1037.0,293.2 L1037.7,296.4 L1038.3,299.7 L1038.8,302.9 L1039.4,306.1 L1040.0,309.3 L1040.5,312.5 L1041.0,315.7 L1041.5,319.0 L1042.0,322.2 L1042.5,325.4 L1042.9,328.7 L1043.4,331.9 L1043.8,335.1 L1044.3,338.4 L1044.7,341.6 L1045.1,344.9 L1045.5,348.1 L1045.9,351.3 L1046.2,354.6 L1046.6,357.8 L1046.9,361.1 L1047.3,364.3 L1047.6,367.6 L1047.9,370.8 L1048.2,374.1 L1048.5,377.3 L1048.8,380.6 L1049.1,383.8 L1049.4,387.1 L1049.7,390.3 L1049.9,393.6 L1050.2,396.8 L1050.4,400.1 L1050.7,403.4 L1050.9,406.6 L1051.1,409.9 L1051.4,413.1 L1051.6,416.4 L1051.8,419.6 L1052.0,422.9 L1052.2,426.2 L1052.4,429.4 L1052.6,432.7 L1052.8,435.9 L1053.0,439.2 L1053.1,442.5 L1053.3,445.7 L1053.5,449.0 L1053.6,452.3 L1053.8,455.5 L1054.0,458.8 L1054.1,462.0 L1054.3,465.3 L1054.4,468.6 L1054.6,471.8 L1054.7,475.1 L1054.8,478.3 L1055.0,481.6 L1055.1,484.9 L1055.3,488.1 L1055.4,491.4 L1055.5,494.7 L1055.7,497.9 L1055.8,501.2 L1055.9,504.4 L1056.0,507.7 L1056.2,511.0 L1056.3,514.2 L1056.4,517.5 L1056.5,520.8 L1056.7,524.0 L1056.8,527.3 L1056.9,530.6 L1057.0,533.8 L1057.2,537.1 L1057.3,540.3 L1057.4,543.6 L1057.5,546.9 L1057.6,550.1 L1057.7,553.4 L1057.9,556.7 L1058.0,559.9 L1058.1,563.2 L1058.2,566.5 L1058.3,569.7 L1058.4,573.0 L1058.5,576.2 L1058.7,579.5 L1058.8,582.8 L1058.9,586.0 L1059.0,589.3 L1059.1,592.6 L1059.2,595.8 L1059.3,599.1 L1059.4,602.4 L1059.5,605.6 L1059.6,608.9 L1059.7,612.1 L1059.8,615.4 L1059.9,618.7 L1060.1,621.9 L1060.2,625.2 L1060.3,628.5 L1060.4,631.7 L1060.5,635.0 L1060.6,638.3 L1060.7,641.5 L1060.8,644.8 L1060.9,648.0 L1061.0,651.3 L1061.1,654.6 L1061.2,657.8 L1061.3,661.1 L1061.4,664.4 L1061.5,667.6 L1061.6,670.9 L1061.7,674.2 L1061.8,677.4 L1061.9,680.7 L1062.0,683.9 L1062.1,687.2 L1062.2,690.5 L1062.3,693.7 L1062.4,697.0 L1062.5,700.3 L1062.6,703.5 L1062.7,706.8 L1062.9,710.1 L1063.0,713.3 L1063.1,716.6 L1063.2,719.9 L1063.3,723.1 L1063.4,726.4 L1063.5,729.6 L1063.6,732.9 L1063.7,736.2 L1063.8,739.4 L1063.9,742.7 L1064.0,746.0 L1064.1,749.2 L1064.2,752.5 L1064.3,755.8 L1064.4,759.0 L1064.5,762.3 L1064.7,765.5 L1064.8,768.8 L1064.9,772.1 L1065.0,775.3 L1065.1,778.6 L1065.2,781.9 L1065.3,785.1 L1065.4,788.4 L1065.6,791.7 L1065.7,794.9 L1065.8,798.2 L1065.9,801.4 L1066.0,804.7 L1066.1,808.0 L1066.2,811.2 L1066.4,814.5 L1066.5,817.8 L1066.6,821.0 L1066.7,824.3 L1066.9,827.6 L1067.0,830.8 L1067.1,834.1 L1067.2,837.3 L1067.3,840.6 L1067.5,843.9 L1067.6,847.1 L1067.7,850.4 L1067.9,853.7 L1068.0,856.9 L1068.1,860.2 L1068.3,863.4 L1068.4,866.7 L1068.5,870.0 L1068.7,873.2 L1068.8,876.5 L1068.9,879.8 L1069.1,883.0 L1069.2,886.3 L1069.3,889.5 L1069.5,892.8 L1069.4,893.1 L1069.6,889.4 L1069.8,885.8 L1070.0,882.2 L1070.2,878.6 L1070.4,875.0 L1070.6,871.3 L1070.8,867.7 L1071.0,864.1 L1071.2,860.5 L1071.4,856.8 L1071.5,853.2 L1071.7,849.6 L1071.9,845.9 L1072.0,842.3 L1072.2,838.7 L1072.3,835.1 L1072.5,831.4 L1072.6,827.8 L1072.7,824.2 L1072.9,820.6 L1073.0,816.9 L1073.1,813.3 L1073.2,809.7 L1073.3,806.0 L1073.4,802.4 L1073.6,798.8 L1073.7,795.2 L1073.8,791.5 L1073.9,787.9 L1074.0,784.3 L1074.0,780.6 L1074.1,777.0 L1074.2,773.4 L1074.3,769.8 L1074.4,766.1 L1074.4,762.5 L1074.5,758.9 L1074.6,755.2 L1074.7,751.6 L1074.7,748.0 L1074.8,744.4 L1074.8,740.7 L1074.9,737.1 L1074.9,733.5 L1075.0,729.8 L1075.0,726.2 L1075.1,722.6 L1075.1,718.9 L1075.2,715.3 L1075.2,711.7 L1075.2,708.1 L1075.3,704.4 L1075.3,700.8 L1075.3,697.2 L1075.4,693.5 L1075.4,689.9 L1075.4,686.3 L1075.5,682.6 L1075.5,679.0 L1075.5,675.4 L1075.5,671.8 L1075.5,668.1 L1075.6,664.5 L1075.6,660.9 L1075.6,657.2 L1075.6,653.6 L1075.6,650.0 L1075.6,646.3 L1075.6,642.7 L1075.7,639.1 L1075.7,635.5 L1075.7,631.8 L1075.7,628.2 L1075.7,624.6 L1075.7,620.9 L1075.7,617.3 L1075.7,613.7 L1075.7,610.0 L1075.7,606.4 L1075.7,602.8 L1075.7,599.2 L1075.7,595.5 L1075.7,591.9 L1075.7,588.3 L1075.7,584.6 L1075.7,581.0 L1075.7,577.4 L1075.7,573.7 L1075.8,570.1 L1075.8,566.5 L1075.8,562.9 L1075.8,559.2 L1075.8,555.6 L1075.8,552.0 L1075.8,548.3 L1075.8,544.7 L1075.8,541.1 L1075.8,537.4 L1075.8,533.8 L1075.8,530.2 L1075.8,526.6 L1075.8,522.9 L1075.8,519.3 L1075.9,515.7 L1075.9,512.0 L1075.9,508.4 L1075.9,504.8 L1075.9,501.1 L1075.9,497.5 L1076.0,493.9 L1076.0,490.3 L1076.0,486.6 L1076.0,483.0 L1076.0,479.4 L1076.1,475.7 L1076.1,472.1 L1076.1,468.5 L1076.2,464.8 L1076.2,461.2 L1076.2,457.6 L1076.3,454.0 L1076.3,450.3 L1076.3,446.7 L1076.4,443.1 L1076.4,439.4 L1076.5,435.8 L1076.5,432.2 L1076.6,428.5 L1076.6,424.9 L1076.7,421.3 L1076.8,417.7 L1076.8,414.0 L1076.9,410.4 L1076.9,406.8 L1077.0,403.1 L1077.1,399.5 L1077.1,395.9 L1077.2,392.2 L1077.3,388.6 L1077.3,385.0 L1077.4,381.4 L1077.4,377.7 L1077.5,374.1 L1077.6,370.5 L1077.6,366.8 L1077.7,363.2 L1077.8,359.6 L1077.8,356.0 L1077.9,352.3 L1077.9,348.7 L1078.0,345.1 L1078.1,341.4 L1078.1,337.8 L1078.2,334.2 L1078.2,330.5 L1078.3,326.9 L1078.3,323.3 L1078.3,319.7 L1078.4,316.0 L1078.4,312.4 L1078.5,308.8 L1078.5,305.1 L1078.5,301.5 L1078.5,297.9 L1078.6,294.2 L1078.6,290.6 L1078.6,287.0 L1078.6,283.4 L1078.6,279.7 L1078.6,276.1 L1078.6,272.5 L1078.6,268.8 L1078.6,265.2 L1078.6,261.6 L1078.6,257.9 L1078.6,254.3 L1078.6,250.7 L1078.6,247.1 L1078.5,243.4 L1078.5,239.8 L1078.5,236.2 L1078.5,232.5 L1078.6,228.9 L1078.6,225.3 L1078.6,221.6 L1078.7,218.0 L1078.7,214.4 L1078.8,210.8 L1078.9,207.1 L1079.0,203.5 L1079.1,199.9 L1079.2,196.2 L1079.4,192.6 L1079.6,189.0 L1079.8,185.4 L1080.0,181.7 L1080.3,178.1 L1080.6,174.5 L1081.0,170.9 L1081.4,167.3 L1081.9,163.7 L1082.4,160.1 L1083.0,156.5 L1083.7,153.0 L1084.5,149.4 L1085.4,145.9 L1086.4,142.4 L1087.5,138.9 L1088.7,135.5 L1090.1,132.2 L1091.7,128.9 L1093.5,125.8 L1095.4,122.7 L1097.6,119.8 L1099.9,117.0 L1102.5,114.5 L1105.3,112.1 L1108.2,110.0 L1111.3,108.0 L1114.4,106.2 L1117.7,104.7 L1121.0,103.3 L1124.5,102.0 L1127.9,100.9 L1131.4,99.9 L1134.9,99.0 L1138.5,98.2 L1142.0,97.5 L1145.6,96.9 L1149.2,96.4 L1152.8,95.9 L1156.4,95.5 L1160.0,95.1 L1163.6,94.8 L1167.3,94.6 L1170.9,94.4 L1174.5,94.2 L1178.1,94.0 L1181.8,93.9 L1185.4,93.8 L1189.0,93.7 L1192.6,93.6 L1196.3,93.6 L1199.9,93.5 L1203.5,93.5 L1207.2,93.5 L1210.8,93.4 L1214.4,93.4 L1218.0,93.4 L1221.7,93.4 L1225.3,93.4 L1228.9,93.4 L1232.6,93.4 L1236.2,93.4 L1239.8,93.4 L1243.5,93.4 L1247.1,93.4 L1250.7,93.4 L1254.4,93.4 L1258.0,93.4 L1261.6,93.4 L1265.2,93.4 L1268.9,93.4 L1270.0,93.4 L1273.0,93.4 L1276.0,93.4 L1279.0,93.4 L1282.0,93.4 L1285.0,93.4 L1288.0,93.4 L1291.0,93.4 L1294.0,93.4 L1297.0,93.4 L1300.0,93.5 L1303.0,93.5 L1306.0,93.5 L1309.0,93.5 L1312.0,93.5 L1315.0,93.5 L1318.0,93.5 L1321.0,93.5 L1324.0,93.5 L1327.0,93.5 L1330.0,93.5 L1333.0,93.5 L1336.0,93.5 L1339.0,93.5 L1342.0,93.5 L1345.0,93.5 L1348.0,93.5 L1351.0,93.5 L1354.0,93.5 L1357.0,93.5 L1360.0,93.5 L1363.0,93.5 L1366.0,93.5 L1369.0,93.5 L1372.0,93.5 L1375.0,93.5 L1378.0,93.5 L1381.0,93.6 L1384.0,93.6 L1387.0,93.6 L1390.0,93.6 L1393.0,93.6 L1396.0,93.6 L1399.0,93.6 L1402.0,93.6 L1405.0,93.6 L1408.0,93.6 L1411.0,93.6 L1414.0,93.6 L1417.0,93.6 L1420.0,93.6 L1423.0,93.6 L1426.0,93.6 L1429.0,93.6 L1432.0,93.6 L1435.0,93.6 L1438.0,93.6 L1441.0,93.6 L1444.0,93.6 L1447.0,93.6 L1450.0,93.6 L1453.0,93.6 L1456.0,93.6 L1459.0,93.6 L1462.0,93.7 L1465.0,93.7 L1468.0,93.7 L1471.0,93.7 L1474.0,93.7 L1477.0,93.7 L1480.0,93.7 L1483.0,93.7 L1486.0,93.7 L1489.0,93.7 L1492.0,93.7 L1495.0,93.7 L1498.0,93.7 L1501.0,93.7 L1504.0,93.7 L1507.0,93.7 L1510.0,93.7 L1513.0,93.7 L1516.0,93.7 L1519.0,93.7 L1522.0,93.7 L1525.0,93.7 L1528.0,93.7 L1531.0,93.7 L1534.0,93.7 L1537.0,93.7 L1540.0,93.7 L1543.0,93.8 L1546.0,93.8 L1549.0,93.8 L1552.0,93.8 L1555.0,93.8 L1558.0,93.8 L1561.0,93.8 L1564.0,93.8 L1567.0,93.8 L1570.0,93.8 L1573.0,93.8 L1576.0,93.8 L1579.0,93.8" fill="none" stroke="#ff1a1f" stroke-width="5.40" stroke-linejoin="round" stroke-linecap="round"/>
<path d="M2210.0,107.6 L2213.0,107.6 L2216.0,107.6 L2219.0,107.6 L2222.0,107.6 L2225.0,107.6 L2228.0,107.6 L2231.0,107.6 L2234.0,107.6 L2237.0,107.6 L2240.0,107.6 L2243.0,107.6 L2246.0,107.6 L2249.0,107.6 L2252.0,107.6 L2255.0,107.6 L2258.0,107.6 L2261.0,107.6 L2264.0,107.6 L2267.0,107.6 L2270.0,107.6 L2273.0,107.6 L2276.0,107.6 L2279.0,107.6 L2282.0,107.6 L2285.0,107.6 L2288.0,107.6 L2291.0,107.6 L2294.0,107.6 L2297.0,107.6 L2300.0,107.6 L2303.0,107.6 L2306.0,107.6 L2309.0,107.6 L2312.0,107.6 L2315.0,107.6 L2318.0,107.6 L2321.0,107.6 L2324.0,107.6 L2327.0,107.6 L2330.0,107.6 L2333.0,107.6 L2336.0,107.6 L2339.0,107.6 L2342.0,107.6 L2345.0,107.6 L2348.0,107.6 L2351.0,107.6 L2354.0,107.6 L2357.0,107.6 L2360.0,107.6 L2363.0,107.6 L2366.0,107.7 L2369.0,107.7 L2372.0,107.7 L2375.0,107.7 L2378.0,107.7 L2381.0,107.7 L2384.0,107.7 L2387.0,107.7 L2390.0,107.7 L2393.0,107.7 L2396.0,107.7 L2399.0,107.7 L2402.0,107.7 L2405.0,107.7 L2408.0,107.7 L2411.0,107.7 L2414.0,107.7 L2417.0,107.7 L2420.0,107.7 L2423.0,107.7 L2426.0,107.7 L2429.0,107.7 L2432.0,107.7 L2435.0,107.7 L2438.0,107.7 L2441.0,107.7 L2444.0,107.7 L2447.0,107.7 L2450.0,107.7 L2453.0,107.7 L2456.0,107.7 L2459.0,107.7 L2462.0,107.7 L2465.0,107.7 L2468.0,107.7 L2471.0,107.7 L2474.0,107.7 L2477.0,107.7 L2480.0,107.7 L2483.0,107.7 L2486.0,107.7 L2489.0,107.7 L2492.0,107.7 L2495.0,107.7 L2498.0,107.7 L2501.0,107.7 L2504.0,107.7 L2507.0,107.7 L2510.0,107.7 L2513.0,107.7 L2516.0,107.7 L2519.0,107.7 L2522.0,107.7 L2525.0,107.7 L2528.0,107.7 L2531.0,107.7 L2534.0,107.7 L2537.0,107.7 L2540.0,107.7 L2543.0,107.7 L2546.0,107.7 L2549.0,107.7 L2552.0,107.7 L2555.0,107.7 L2558.0,107.7 L2561.0,107.7 L2564.0,107.7 L2567.0,107.7 L2570.0,107.7 L2573.0,107.7 L2576.0,107.7 L2579.0,107.7 L2582.0,107.7 L2585.0,107.7 L2588.0,107.7 L2591.0,107.7 L2594.0,107.7 L2597.0,107.7 L2600.0,107.7 L2603.0,107.7 L2606.0,107.7 L2609.0,107.7 L2612.0,107.7 L2615.0,107.7 L2618.0,107.7 L2621.0,107.7 L2624.0,107.7 L2627.0,107.7 L2630.0,107.7 L2633.0,107.7 L2636.0,107.7 L2639.0,107.7 L2642.0,107.7 L2645.0,107.7 L2648.0,107.7 L2651.0,107.7 L2654.0,107.7 L2657.0,107.7 L2660.0,107.7 L2663.0,107.7 L2666.0,107.7 L2669.0,107.7 L2672.0,107.7 L2675.0,107.7 L2678.0,107.7 L2681.0,107.7 L2684.0,107.7 L2687.0,107.7 L2690.0,107.7 L2693.0,107.7 L2696.0,107.7 L2699.0,107.7 L2701.5,107.7 L2704.8,107.7 L2708.2,107.7 L2711.6,107.7 L2714.9,107.7 L2718.3,107.7 L2721.7,107.7 L2725.0,107.7 L2728.4,107.7 L2731.7,107.7 L2735.1,107.7 L2738.5,107.7 L2741.8,107.7 L2745.2,107.7 L2748.6,107.7 L2751.9,107.8 L2755.3,107.8 L2758.7,107.8 L2762.0,107.9 L2765.4,107.9 L2768.8,108.0 L2772.1,108.1 L2775.5,108.1 L2778.9,108.2 L2782.2,108.3 L2785.6,108.5 L2789.0,108.6 L2792.3,108.7 L2795.7,108.9 L2799.0,109.0 L2802.4,109.2 L2805.8,109.4 L2809.1,109.6 L2812.5,109.9 L2815.8,110.1 L2819.2,110.4 L2822.6,110.7 L2825.9,111.0 L2829.3,111.4 L2832.6,111.7 L2835.9,112.1 L2839.3,112.5 L2842.6,113.0 L2846.0,113.4 L2849.3,113.9 L2852.6,114.5 L2855.9,115.0 L2859.2,115.6 L2862.5,116.3 L2865.8,117.0 L2869.1,117.7 L2872.4,118.4 L2875.7,119.2 L2878.9,120.1 L2882.2,120.9 L2885.4,121.9 L2888.6,122.8 L2891.9,123.8 L2895.0,124.9 L2898.2,126.0 L2901.4,127.2 L2904.5,128.4 L2907.7,129.6 L2910.8,130.9 L2913.9,132.2 L2916.9,133.6 L2920.0,135.1 L2923.0,136.6 L2926.0,138.1 L2928.9,139.7 L2931.8,141.4 L2934.7,143.1 L2937.6,144.9 L2940.5,146.7 L2943.3,148.5 L2946.0,150.5 L2948.7,152.4 L2951.4,154.5 L2954.1,156.5 L2956.7,158.7 L2959.3,160.8 L2961.8,163.1 L2964.3,165.4 L2966.7,167.7 L2969.1,170.1 L2971.4,172.5 L2973.7,174.9 L2976.0,177.4 L2978.2,180.0 L2980.3,182.6 L2982.4,185.2 L2984.5,187.8 L2986.5,190.5 L2988.5,193.2 L2990.5,196.0 L2992.3,198.8 L2994.2,201.6 L2996.0,204.4 L2997.8,207.3 L2999.5,210.2 L3001.2,213.1 L3002.8,216.0 L3004.5,219.0 L3006.0,222.0 L3007.6,224.9 L3009.1,228.0 L3010.5,231.0 L3012.0,234.0 L3013.4,237.1 L3014.8,240.2 L3016.1,243.3 L3017.4,246.4 L3018.7,249.5 L3020.0,252.6 L3021.2,255.7 L3022.4,258.9 L3023.6,262.0 L3024.7,265.2 L3025.8,268.4 L3026.9,271.5 L3028.0,274.7 L3029.1,277.9 L3030.1,281.1 L3031.1,284.3 L3032.1,287.6 L3033.1,290.8 L3034.0,294.0 L3035.0,297.2 L3035.9,300.5 L3036.8,303.7 L3037.7,307.0 L3038.5,310.2 L3039.4,313.5 L3040.2,316.7 L3041.0,320.0 L3041.8,323.3 L3042.5,326.6 L3043.3,329.8 L3044.0,333.1 L3044.8,336.4 L3045.5,339.7 L3046.2,343.0 L3046.9,346.3 L3047.5,349.6 L3048.2,352.9 L3048.8,356.2 L3049.4,359.5 L3050.0,362.8 L3050.6,366.1 L3051.2,369.4 L3051.8,372.8 L3052.4,376.1 L3052.9,379.4 L3053.4,382.7 L3054.0,386.1 L3054.5,389.4 L3055.0,392.7 L3055.5,396.0 L3055.9,399.4 L3056.4,402.7 L3056.9,406.0 L3057.3,409.4 L3057.8,412.7 L3058.2,416.0 L3058.6,419.4 L3059.1,422.7 L3059.5,426.1 L3059.9,429.4 L3060.3,432.7 L3060.7,436.1 L3061.0,439.4 L3061.4,442.8 L3061.8,446.1 L3062.1,449.5 L3062.5,452.8 L3062.9,456.2 L3063.2,459.5 L3063.5,462.9 L3063.9,466.2 L3064.2,469.6 L3064.5,472.9 L3064.9,476.3 L3065.2,479.6 L3065.5,483.0 L3065.8,486.3 L3066.1,489.7 L3066.4,493.0 L3066.8,496.4 L3067.1,499.7 L3067.4,503.1 L3067.6,506.4 L3067.9,509.8 L3068.2,513.1 L3068.5,516.5 L3068.8,519.8 L3069.1,523.2 L3069.4,526.6 L3069.6,529.9 L3069.9,533.3 L3070.2,536.6 L3070.4,540.0 L3070.7,543.3 L3071.0,546.7 L3071.2,550.0 L3071.5,553.4 L3071.7,556.8 L3072.0,560.1 L3072.2,563.5 L3072.5,566.8 L3072.7,570.2 L3073.0,573.5 L3073.2,576.9 L3073.5,580.3 L3073.7,583.6 L3073.9,587.0 L3074.2,590.3 L3074.4,593.7 L3074.6,597.0 L3074.9,600.4 L3075.1,603.8 L3075.3,607.1 L3075.5,610.5 L3075.7,613.8 L3076.0,617.2 L3076.2,620.6 L3076.4,623.9 L3076.6,627.3 L3076.8,630.6 L3077.0,634.0 L3077.2,637.3 L3077.4,640.7 L3077.7,644.1 L3077.9,647.4 L3078.1,650.8 L3078.3,654.1 L3078.5,657.5 L3078.7,660.9 L3078.9,664.2 L3079.1,667.6 L3079.3,670.9 L3079.4,674.3 L3079.6,677.7 L3079.8,681.0 L3080.0,684.4 L3080.2,687.8 L3080.4,691.1 L3080.6,694.5 L3080.8,697.8 L3081.0,701.2 L3081.2,704.6 L3081.3,707.9 L3081.5,711.3 L3081.7,714.6 L3081.9,718.0 L3082.1,721.4 L3082.3,724.7 L3082.4,728.1 L3082.6,731.4 L3082.8,734.8 L3083.0,738.2 L3083.2,741.5 L3083.3,744.9 L3083.5,748.3 L3083.7,751.6 L3083.9,755.0 L3084.0,758.3 L3084.2,761.7 L3084.4,765.1 L3084.6,768.4 L3084.8,771.8 L3084.9,775.1 L3085.1,778.5 L3085.3,781.9 L3085.5,785.2 L3085.6,788.6 L3085.8,791.9 L3086.0,795.3 L3086.2,798.7 L3086.4,802.0 L3086.5,805.4 L3086.7,808.8 L3086.9,812.1 L3087.1,815.5 L3087.2,818.8 L3087.4,822.2 L3087.6,825.6 L3087.8,828.9 L3088.0,832.3 L3088.1,835.6 L3088.3,839.0 L3088.5,842.4 L3088.7,845.7 L3088.9,849.1 L3089.1,852.4 L3089.2,855.8 L3089.4,859.2 L3089.6,862.5 L3089.8,865.9 L3090.0,869.3 L3090.2,872.6 L3090.4,876.0 L3090.6,879.3 L3090.8,882.7 L3090.9,886.1 L3091.0,885.7 L3091.1,882.4 L3091.3,879.1 L3091.4,875.8 L3091.6,872.5 L3091.7,869.2 L3091.9,865.9 L3092.0,862.6 L3092.1,859.3 L3092.3,856.1 L3092.4,852.8 L3092.5,849.5 L3092.6,846.2 L3092.7,842.9 L3092.8,839.6 L3092.9,836.3 L3093.1,833.0 L3093.2,829.7 L3093.2,826.4 L3093.3,823.2 L3093.4,819.9 L3093.5,816.6 L3093.6,813.3 L3093.7,810.0 L3093.8,806.7 L3093.8,803.4 L3093.9,800.1 L3094.0,796.8 L3094.0,793.5 L3094.1,790.2 L3094.2,787.0 L3094.2,783.7 L3094.3,780.4 L3094.3,777.1 L3094.4,773.8 L3094.4,770.5 L3094.5,767.2 L3094.5,763.9 L3094.6,760.6 L3094.6,757.3 L3094.7,754.0 L3094.7,750.7 L3094.7,747.5 L3094.8,744.2 L3094.8,740.9 L3094.8,737.6 L3094.8,734.3 L3094.9,731.0 L3094.9,727.7 L3094.9,724.4 L3094.9,721.1 L3095.0,717.8 L3095.0,714.5 L3095.0,711.2 L3095.0,708.0 L3095.0,704.7 L3095.0,701.4 L3095.0,698.1 L3095.1,694.8 L3095.1,691.5 L3095.1,688.2 L3095.1,684.9 L3095.1,681.6 L3095.1,678.3 L3095.1,675.0 L3095.1,671.7 L3095.1,668.5 L3095.1,665.2 L3095.1,661.9 L3095.1,658.6 L3095.1,655.3 L3095.1,652.0 L3095.1,648.7 L3095.1,645.4 L3095.1,642.1 L3095.1,638.8 L3095.1,635.5 L3095.1,632.2 L3095.1,629.0 L3095.1,625.7 L3095.1,622.4 L3095.1,619.1 L3095.1,615.8 L3095.1,612.5 L3095.1,609.2 L3095.1,605.9 L3095.1,602.6 L3095.1,599.3 L3095.1,596.0 L3095.1,592.7 L3095.1,589.4 L3095.1,586.2 L3095.1,582.9 L3095.1,579.6 L3095.1,576.3 L3095.1,573.0 L3095.1,569.7 L3095.1,566.4 L3095.1,563.1 L3095.1,559.8 L3095.1,556.5 L3095.1,553.2 L3095.1,549.9 L3095.1,546.7 L3095.1,543.4 L3095.2,540.1 L3095.2,536.8 L3095.2,533.5 L3095.2,530.2 L3095.2,526.9 L3095.2,523.6 L3095.3,520.3 L3095.3,517.0 L3095.3,513.7 L3095.3,510.4 L3095.3,507.2 L3095.4,503.9 L3095.4,500.6 L3095.4,497.3 L3095.5,494.0 L3095.5,490.7 L3095.5,487.4 L3095.6,484.1 L3095.6,480.8 L3095.7,477.5 L3095.7,474.2 L3095.7,470.9 L3095.8,467.7 L3095.8,464.4 L3095.9,461.1 L3095.9,457.8 L3096.0,454.5 L3096.0,451.2 L3096.1,447.9 L3096.1,444.6 L3096.2,441.3 L3096.2,438.0 L3096.3,434.7 L3096.3,431.4 L3096.4,428.2 L3096.5,424.9 L3096.5,421.6 L3096.6,418.3 L3096.6,415.0 L3096.7,411.7 L3096.8,408.4 L3096.8,405.1 L3096.9,401.8 L3096.9,398.5 L3097.0,395.2 L3097.1,392.0 L3097.1,388.7 L3097.2,385.4 L3097.2,382.1 L3097.3,378.8 L3097.4,375.5 L3097.4,372.2 L3097.5,368.9 L3097.5,365.6 L3097.6,362.3 L3097.7,359.0 L3097.7,355.7 L3097.8,352.5 L3097.8,349.2 L3097.9,345.9 L3097.9,342.6 L3098.0,339.3 L3098.0,336.0 L3098.1,332.7 L3098.1,329.4 L3098.2,326.1 L3098.2,322.8 L3098.3,319.5 L3098.3,316.3 L3098.4,313.0 L3098.4,309.7 L3098.5,306.4 L3098.5,303.1 L3098.6,299.8 L3098.6,296.5 L3098.6,293.2 L3098.7,289.9 L3098.7,286.6 L3098.7,283.3 L3098.8,280.0 L3098.8,276.8 L3098.8,273.5 L3098.8,270.2 L3098.9,266.9 L3098.9,263.6 L3098.9,260.3 L3098.9,257.0 L3098.9,253.7 L3099.0,250.4 L3099.0,247.1 L3099.0,243.8 L3099.1,240.5 L3099.1,237.3 L3099.2,234.0 L3099.3,230.7 L3099.4,227.4 L3099.5,224.1 L3099.6,220.8 L3099.7,217.5 L3099.9,214.2 L3100.0,210.9 L3100.2,207.6 L3100.4,204.4 L3100.6,201.1 L3100.9,197.8 L3101.2,194.5 L3101.5,191.2 L3101.9,188.0 L3102.3,184.7 L3102.8,181.5 L3103.4,178.2 L3104.0,175.0 L3104.7,171.8 L3105.5,168.6 L3106.5,165.4 L3107.5,162.3 L3108.7,159.2 L3110.0,156.2 L3111.5,153.3 L3113.1,150.4 L3114.8,147.6 L3116.7,144.9 L3118.8,142.3 L3121.0,139.9 L3123.3,137.5 L3125.7,135.3 L3128.2,133.2 L3130.8,131.2 L3133.5,129.3 L3136.3,127.6 L3139.2,125.9 L3142.1,124.4 L3145.1,123.0 L3148.1,121.7 L3151.1,120.4 L3154.2,119.3 L3157.3,118.2 L3160.5,117.3 L3163.6,116.4 L3166.8,115.5 L3170.0,114.8 L3173.2,114.1 L3176.5,113.4 L3179.7,112.8 L3183.0,112.3 L3186.2,111.8 L3189.5,111.3 L3192.7,110.9 L3196.0,110.5 L3199.3,110.2 L3202.6,109.9 L3205.8,109.6 L3209.1,109.4 L3212.4,109.2 L3215.7,109.0 L3219.0,108.8 L3222.3,108.7 L3225.6,108.5 L3228.8,108.4 L3232.1,108.3 L3235.4,108.2 L3238.7,108.2 L3242.0,108.1 L3245.3,108.1 L3248.6,108.0 L3251.9,108.0 L3255.2,108.0 L3258.5,108.0 L3261.8,108.0 L3265.1,108.0 L3268.3,108.0 L3271.6,108.0 L3274.9,108.1 L3278.2,108.1 L3281.5,108.1 L3284.8,108.1 L3288.1,108.1 L3291.4,108.1 L3294.7,108.1 L3298.0,108.1 L3300.0,108.1 L3303.0,108.1 L3306.0,108.1 L3309.0,108.1 L3312.0,108.1 L3315.0,108.1 L3318.0,108.1 L3321.0,108.1 L3324.0,108.1 L3327.0,108.1 L3330.0,108.1 L3333.0,108.1 L3336.0,108.1 L3339.0,108.1 L3342.0,108.1 L3345.0,108.1 L3348.0,108.1 L3351.0,108.1 L3354.0,108.1 L3357.0,108.1 L3360.0,108.1 L3363.0,108.1 L3366.0,108.1 L3369.0,108.1 L3372.0,108.1 L3375.0,108.1 L3378.0,108.1 L3381.0,108.1 L3384.0,108.1 L3387.0,108.1 L3390.0,108.1 L3393.0,108.1 L3396.0,108.1 L3399.0,108.1 L3402.0,108.0 L3405.0,108.0 L3408.0,108.0 L3411.0,108.0 L3414.0,108.0 L3417.0,108.0 L3420.0,108.0 L3423.0,108.0 L3426.0,108.0 L3429.0,108.0 L3432.0,108.0 L3435.0,108.0 L3438.0,108.0 L3441.0,108.0 L3444.0,108.0 L3447.0,108.0 L3450.0,108.0 L3453.0,108.0 L3456.0,108.0 L3459.0,108.0 L3462.0,108.0 L3465.0,108.0 L3468.0,108.0 L3471.0,108.0 L3474.0,108.0 L3477.0,108.0 L3480.0,108.0 L3483.0,108.0 L3486.0,108.0 L3489.0,108.0 L3492.0,108.0 L3495.0,108.0 L3498.0,108.0 L3501.0,108.0 L3504.0,108.0 L3507.0,108.0 L3510.0,108.0" fill="none" stroke="#ff1a1f" stroke-width="5.40" stroke-linejoin="round" stroke-linecap="round"/>
<path d="M279.0,95.2 L282.0,95.3 L285.0,95.3 L288.0,95.3 L291.0,95.3 L294.0,95.3 L297.0,95.3 L300.0,95.3 L303.0,95.3 L306.0,95.3 L309.0,95.3 L312.0,95.3 L315.0,95.3 L318.0,95.3 L321.0,95.3 L324.0,95.3 L327.0,95.4 L330.0,95.4 L333.0,95.4 L336.0,95.4 L339.0,95.4 L342.0,95.4 L345.0,95.4 L348.0,95.4 L351.0,95.4 L354.0,95.4 L357.0,95.4 L360.0,95.4 L363.0,95.4 L366.0,95.4 L369.0,95.5 L372.0,95.5 L375.0,95.5 L378.0,95.5 L381.0,95.5 L384.0,95.5 L387.0,95.5 L390.0,95.5 L393.0,95.5 L396.0,95.5 L399.0,95.5 L402.0,95.5 L405.0,95.5 L408.0,95.5 L411.0,95.5 L414.0,95.6 L417.0,95.6 L420.0,95.6 L423.0,95.6 L426.0,95.6 L429.0,95.6 L432.0,95.6 L435.0,95.6 L438.0,95.6 L441.0,95.6 L444.0,95.6 L447.0,95.6 L450.0,95.6 L453.0,95.6 L456.0,95.7 L459.0,95.7 L462.0,95.7 L465.0,95.7 L468.0,95.7 L471.0,95.7 L474.0,95.7 L477.0,95.7 L480.0,95.7 L483.0,95.7 L486.0,95.7 L489.0,95.7 L492.0,95.7 L495.0,95.7 L498.0,95.7 L501.0,95.8 L504.0,95.8 L507.0,95.8 L510.0,95.8 L513.0,95.8 L516.0,95.8 L519.0,95.8 L522.0,95.8 L525.0,95.8 L528.0,95.8 L531.0,95.8 L534.0,95.8 L537.0,95.8 L540.0,95.8 L543.0,95.9 L546.0,95.9 L549.0,95.9 L552.0,95.9 L555.0,95.9 L558.0,95.9 L561.0,95.9 L564.0,95.9 L567.0,95.9 L570.0,95.9 L573.0,95.9 L576.0,95.9 L579.0,95.9 L582.0,95.9 L585.0,95.9 L588.0,96.0 L591.0,96.0 L594.0,96.0 L597.0,96.0 L600.0,96.0 L603.0,96.0 L606.0,96.0 L609.0,96.0 L612.0,96.0 L615.0,96.0 L618.0,96.0 L621.0,96.0 L624.0,96.0 L627.0,96.0 L630.0,96.1 L633.0,96.1 L636.0,96.1 L639.0,96.1 L642.0,96.1 L645.0,96.1 L648.0,96.1 L651.0,96.1 L654.0,96.1 L657.0,96.1 L660.0,96.1 L663.0,96.1 L666.0,96.1 L669.0,96.1 L672.0,96.1 L675.0,96.2 L678.0,96.2 L681.0,96.2 L684.0,96.2 L687.0,96.2 L690.0,96.2 L693.0,96.2 L696.0,96.2 L699.0,96.2 L702.0,96.2 L705.0,96.2 L708.0,96.2 L711.0,96.2 L714.0,96.2 L717.0,96.3 L720.0,96.3 L723.0,96.3 L726.0,96.3 L729.0,96.3 L732.0,96.3 L735.0,96.3 L738.0,96.3 L741.0,96.3 L744.0,96.3 L747.0,96.3 L752.9,96.3 L756.2,96.3 L759.4,96.3 L762.7,96.4 L766.0,96.4 L769.2,96.4 L772.5,96.5 L775.8,96.6 L779.0,96.7 L782.3,96.8 L785.6,96.9 L788.8,97.0 L792.1,97.1 L795.3,97.2 L798.6,97.4 L801.9,97.5 L805.1,97.7 L808.4,97.8 L811.7,98.0 L814.9,98.2 L818.2,98.4 L821.4,98.6 L824.7,98.9 L827.9,99.1 L831.2,99.4 L834.4,99.7 L837.7,100.0 L840.9,100.4 L844.2,100.7 L847.4,101.1 L850.7,101.5 L853.9,102.0 L857.1,102.4 L860.4,102.9 L863.6,103.4 L866.8,104.0 L870.0,104.5 L873.2,105.2 L876.4,105.8 L879.6,106.5 L882.8,107.2 L886.0,107.9 L889.2,108.7 L892.3,109.5 L895.5,110.4 L898.6,111.3 L901.7,112.2" fill="none" stroke="#ff1a1f" stroke-opacity="1.00" stroke-width="1.9" stroke-dasharray="3.1,4.5,4.3,4.1,3.3,4.6,2.5,4.3,3.6,5.3,2.2,3.6,2.2,5.3,3.7,2.6,4.5,5.9,3.6,4.7,2.4,2.6,3.3,2.7,2.5,3.3,2.1,4.1,3.1,5.4,3.3,4.7,3.2,4.8,3.1,3.5,4.5,6.0,4.1,5.0,2.8,3.3,2.7,2.7,3.9,3.9,4.1,3.9,4.4,5.5,2.0,3.2,4.3,4.1,4.5,3.9,2.2,4.7,3.9,3.4,2.2,3.7,4.4,5.2,2.3,3.4,2.3,2.7,4.0,3.1,3.4,4.1,2.5,5.1,2.3,4.8,2.3,4.0,2.5,3.4,4.4,5.3,2.8,5.6,2.5,3.9,4.1,4.7,2.3,6.0,2.5,3.4,3.9,3.7,2.7,2.8,2.2,4.5,2.6,4.6,2.9,4.1,4.4,4.2,3.4,5.5,2.5,3.0,4.3,5.4,2.6,3.2,3.8,5.8,2.5,5.8,4.2,4.6,3.1,2.9,2.1,5.9,2.6,5.0,2.6,5.4,3.5,3.5,2.4,5.0,2.2,3.3,3.4,5.5,3.5,3.5,4.3,3.2,2.0,3.4,3.1,2.7,2.4,3.8,3.4,3.0,2.9,5.6,4.5,4.8,3.7,4.5,2.4,2.6,2.0,5.7,3.8,5.9,2.1,4.7,3.2,5.1,2.8,6.0,2.2,4.4,3.8,5.7"/>
<path d="M279.0,89.4 L282.0,89.5 L285.0,89.5 L288.0,89.5 L291.0,89.5 L294.0,89.5 L297.0,89.5 L300.0,89.5 L303.0,89.5 L306.0,89.5 L309.0,89.5 L312.0,89.5 L315.0,89.5 L318.0,89.5 L321.0,89.5 L324.0,89.5 L327.0,89.6 L330.0,89.6 L333.0,89.6 L336.0,89.6 L339.0,89.6 L342.0,89.6 L345.0,89.6 L348.0,89.6 L351.0,89.6 L354.0,89.6 L357.0,89.6 L360.0,89.6 L363.0,89.6 L366.0,89.6 L369.0,89.7 L372.0,89.7 L375.0,89.7 L378.0,89.7 L381.0,89.7 L384.0,89.7 L387.0,89.7 L390.0,89.7 L393.0,89.7 L396.0,89.7 L399.0,89.7 L402.0,89.7 L405.0,89.7 L408.0,89.7 L411.0,89.7 L414.0,89.8 L417.0,89.8 L420.0,89.8 L423.0,89.8 L426.0,89.8 L429.0,89.8 L432.0,89.8 L435.0,89.8 L438.0,89.8 L441.0,89.8 L444.0,89.8 L447.0,89.8 L450.0,89.8 L453.0,89.8 L456.0,89.9 L459.0,89.9 L462.0,89.9 L465.0,89.9 L468.0,89.9 L471.0,89.9 L474.0,89.9 L477.0,89.9 L480.0,89.9 L483.0,89.9 L486.0,89.9 L489.0,89.9 L492.0,89.9 L495.0,89.9 L498.0,89.9 L501.0,90.0 L504.0,90.0 L507.0,90.0 L510.0,90.0 L513.0,90.0 L516.0,90.0 L519.0,90.0 L522.0,90.0 L525.0,90.0 L528.0,90.0 L531.0,90.0 L534.0,90.0 L537.0,90.0 L540.0,90.0 L543.0,90.1 L546.0,90.1 L549.0,90.1 L552.0,90.1 L555.0,90.1 L558.0,90.1 L561.0,90.1 L564.0,90.1 L567.0,90.1 L570.0,90.1 L573.0,90.1 L576.0,90.1 L579.0,90.1 L582.0,90.1 L585.0,90.1 L588.0,90.2 L591.0,90.2 L594.0,90.2 L597.0,90.2 L600.0,90.2 L603.0,90.2 L606.0,90.2 L609.0,90.2 L612.0,90.2 L615.0,90.2 L618.0,90.2 L621.0,90.2 L624.0,90.2 L627.0,90.2 L630.0,90.3 L633.0,90.3 L636.0,90.3 L639.0,90.3 L642.0,90.3 L645.0,90.3 L648.0,90.3 L651.0,90.3 L654.0,90.3 L657.0,90.3 L660.0,90.3 L663.0,90.3 L666.0,90.3 L669.0,90.3 L672.0,90.3 L675.0,90.4 L678.0,90.4 L681.0,90.4 L684.0,90.4 L687.0,90.4 L690.0,90.4 L693.0,90.4 L696.0,90.4 L699.0,90.4 L702.0,90.4 L705.0,90.4 L708.0,90.4 L711.0,90.4 L714.0,90.4 L717.0,90.5 L720.0,90.5 L723.0,90.5 L726.0,90.5 L729.0,90.5 L732.0,90.5 L735.0,90.5 L738.0,90.5 L741.0,90.5 L744.0,90.5 L747.0,90.5 L752.9,90.5 L756.2,90.5 L759.4,90.5 L762.7,90.6 L766.0,90.6 L769.2,90.6 L772.5,90.7 L775.8,90.8 L779.0,90.9 L782.3,91.0 L785.6,91.1 L788.8,91.2 L792.1,91.3 L795.3,91.4 L798.6,91.6 L801.9,91.7 L805.1,91.9 L808.4,92.0 L811.7,92.2 L814.9,92.4 L818.2,92.6 L821.4,92.8 L824.7,93.1 L827.9,93.3 L831.2,93.6 L834.4,93.9 L837.7,94.2 L840.9,94.6 L844.2,94.9 L847.4,95.3 L850.7,95.7 L853.9,96.2 L857.1,96.6 L860.4,97.1 L863.6,97.6 L866.8,98.2 L870.0,98.7 L873.2,99.4 L876.4,100.0 L879.6,100.7 L882.8,101.4 L886.0,102.1 L889.2,102.9 L892.3,103.7 L895.5,104.6 L898.6,105.5 L901.7,106.4" fill="none" stroke="#ff1a1f" stroke-opacity="0.75" stroke-width="1.3" stroke-dasharray="4.2,4.8,4.4,5.7,3.1,4.7,4.7,5.5,3.3,5.2,4.6,4.3,3.9,3.5,3.7,4.4,2.2,4.6,5.0,5.5,4.2,3.6,4.2,4.3,3.3,5.4,2.3,5.0,2.1,4.4,3.4,2.9,4.1,4.0,3.8,5.7,2.8,2.0,2.9,4.7,2.6,2.7,4.7,4.6,3.3,5.6,3.0,4.7,2.6,3.7,4.4,5.7,4.6,3.5,3.7,3.3,2.4,4.0,4.5,5.4,4.1,5.8,2.8,2.7,3.4,3.1,2.6,3.7,3.9,4.0,2.9,5.4,4.9,3.8,2.2,2.1,4.6,2.2,4.1,4.3,2.9,5.2,2.1,2.5,3.4,2.1,4.5,2.9,2.4,2.2,3.9,3.8,3.9,4.6,4.4,5.8,4.1,2.8,3.4,2.7,2.0,3.9,4.1,2.7,2.8,3.4,4.1,4.1,3.8,5.0,3.2,5.2,4.7,2.3,4.8,4.9,2.4,3.8,3.9,5.6,3.1,4.3,4.6,5.2,4.8,3.9,4.0,2.8,4.2,5.3,3.9,4.9,2.6,5.6,4.9,5.9,3.6,5.2,3.0,5.6,4.6,3.4,2.2,3.8,3.7,5.1,3.5,2.1,4.4,2.3,4.4,2.7,3.0,5.2,2.4,2.6,3.5,4.9,4.5,4.8,4.8,4.0"/>
<path d="M1127.9,103.8 L1131.4,102.8 L1134.9,101.9 L1138.5,101.1 L1142.0,100.4 L1145.6,99.8 L1149.2,99.3 L1152.8,98.8 L1156.4,98.4 L1160.0,98.0 L1163.6,97.7 L1167.3,97.5 L1170.9,97.3 L1174.5,97.1 L1178.1,96.9 L1181.8,96.8 L1185.4,96.7 L1189.0,96.6 L1192.6,96.5 L1196.3,96.5 L1199.9,96.4 L1203.5,96.4 L1207.2,96.4 L1210.8,96.3 L1214.4,96.3 L1218.0,96.3 L1221.7,96.3 L1225.3,96.3 L1228.9,96.3 L1232.6,96.3 L1236.2,96.3 L1239.8,96.3 L1243.5,96.3 L1247.1,96.3 L1250.7,96.3 L1254.4,96.3 L1258.0,96.3 L1261.6,96.3 L1265.2,96.3 L1268.9,96.3 L1270.0,96.3 L1273.0,96.3 L1276.0,96.3 L1279.0,96.3 L1282.0,96.3 L1285.0,96.3 L1288.0,96.3 L1291.0,96.3 L1294.0,96.3 L1297.0,96.3 L1300.0,96.4 L1303.0,96.4 L1306.0,96.4 L1309.0,96.4 L1312.0,96.4 L1315.0,96.4 L1318.0,96.4 L1321.0,96.4 L1324.0,96.4 L1327.0,96.4 L1330.0,96.4 L1333.0,96.4 L1336.0,96.4 L1339.0,96.4 L1342.0,96.4 L1345.0,96.4 L1348.0,96.4 L1351.0,96.4 L1354.0,96.4 L1357.0,96.4 L1360.0,96.4 L1363.0,96.4 L1366.0,96.4 L1369.0,96.4 L1372.0,96.4 L1375.0,96.4 L1378.0,96.4 L1381.0,96.5 L1384.0,96.5 L1387.0,96.5 L1390.0,96.5 L1393.0,96.5 L1396.0,96.5 L1399.0,96.5 L1402.0,96.5 L1405.0,96.5 L1408.0,96.5 L1411.0,96.5 L1414.0,96.5 L1417.0,96.5 L1420.0,96.5 L1423.0,96.5 L1426.0,96.5 L1429.0,96.5 L1432.0,96.5 L1435.0,96.5 L1438.0,96.5 L1441.0,96.5 L1444.0,96.5 L1447.0,96.5 L1450.0,96.5 L1453.0,96.5 L1456.0,96.5 L1459.0,96.5 L1462.0,96.6 L1465.0,96.6 L1468.0,96.6 L1471.0,96.6 L1474.0,96.6 L1477.0,96.6 L1480.0,96.6 L1483.0,96.6 L1486.0,96.6 L1489.0,96.6 L1492.0,96.6 L1495.0,96.6 L1498.0,96.6 L1501.0,96.6 L1504.0,96.6 L1507.0,96.6 L1510.0,96.6 L1513.0,96.6 L1516.0,96.6 L1519.0,96.6 L1522.0,96.6 L1525.0,96.6 L1528.0,96.6 L1531.0,96.6 L1534.0,96.6 L1537.0,96.6 L1540.0,96.6 L1543.0,96.7 L1546.0,96.7 L1549.0,96.7 L1552.0,96.7 L1555.0,96.7 L1558.0,96.7 L1561.0,96.7 L1564.0,96.7 L1567.0,96.7 L1570.0,96.7 L1573.0,96.7 L1576.0,96.7 L1579.0,96.7" fill="none" stroke="#ff1a1f" stroke-opacity="1.00" stroke-width="1.9" stroke-dasharray="4.4,2.8,2.6,4.3,2.7,5.1,3.6,4.3,4.1,4.5,2.8,3.8,4.1,5.7,2.5,5.5,4.4,4.3,3.4,3.2,3.3,4.3,3.5,2.6,4.4,4.3,3.0,5.3,3.4,4.2,3.7,2.7,3.3,3.9,4.4,5.7,2.7,4.2,2.3,4.0,4.0,5.7,3.2,3.6,2.5,4.7,4.3,3.0,3.9,2.6,2.5,3.3,3.7,3.6,2.9,4.7,2.3,5.1,2.3,4.3,2.6,3.2,3.3,4.0,2.9,3.9,3.3,3.1,2.5,4.7,3.6,4.4,4.1,4.6,4.1,3.3,3.9,5.3,4.3,3.6,2.8,5.7,2.5,6.0,4.2,3.0,2.6,5.0,2.6,2.8,4.1,4.0,4.0,2.9,3.0,4.9,2.0,3.2,3.7,5.7,4.4,2.9,3.3,5.2,3.3,4.9,2.5,2.7,2.3,2.6,3.4,4.3,3.4,3.0,2.5,3.2,4.1,6.0,4.3,2.8,2.2,5.8"/>
<path d="M1127.9,98.0 L1131.4,97.0 L1134.9,96.1 L1138.5,95.3 L1142.0,94.6 L1145.6,94.0 L1149.2,93.5 L1152.8,93.0 L1156.4,92.6 L1160.0,92.2 L1163.6,91.9 L1167.3,91.7 L1170.9,91.5 L1174.5,91.3 L1178.1,91.1 L1181.8,91.0 L1185.4,90.9 L1189.0,90.8 L1192.6,90.7 L1196.3,90.7 L1199.9,90.6 L1203.5,90.6 L1207.2,90.6 L1210.8,90.5 L1214.4,90.5 L1218.0,90.5 L1221.7,90.5 L1225.3,90.5 L1228.9,90.5 L1232.6,90.5 L1236.2,90.5 L1239.8,90.5 L1243.5,90.5 L1247.1,90.5 L1250.7,90.5 L1254.4,90.5 L1258.0,90.5 L1261.6,90.5 L1265.2,90.5 L1268.9,90.5 L1270.0,90.5 L1273.0,90.5 L1276.0,90.5 L1279.0,90.5 L1282.0,90.5 L1285.0,90.5 L1288.0,90.5 L1291.0,90.5 L1294.0,90.5 L1297.0,90.5 L1300.0,90.6 L1303.0,90.6 L1306.0,90.6 L1309.0,90.6 L1312.0,90.6 L1315.0,90.6 L1318.0,90.6 L1321.0,90.6 L1324.0,90.6 L1327.0,90.6 L1330.0,90.6 L1333.0,90.6 L1336.0,90.6 L1339.0,90.6 L1342.0,90.6 L1345.0,90.6 L1348.0,90.6 L1351.0,90.6 L1354.0,90.6 L1357.0,90.6 L1360.0,90.6 L1363.0,90.6 L1366.0,90.6 L1369.0,90.6 L1372.0,90.6 L1375.0,90.6 L1378.0,90.6 L1381.0,90.7 L1384.0,90.7 L1387.0,90.7 L1390.0,90.7 L1393.0,90.7 L1396.0,90.7 L1399.0,90.7 L1402.0,90.7 L1405.0,90.7 L1408.0,90.7 L1411.0,90.7 L1414.0,90.7 L1417.0,90.7 L1420.0,90.7 L1423.0,90.7 L1426.0,90.7 L1429.0,90.7 L1432.0,90.7 L1435.0,90.7 L1438.0,90.7 L1441.0,90.7 L1444.0,90.7 L1447.0,90.7 L1450.0,90.7 L1453.0,90.7 L1456.0,90.7 L1459.0,90.7 L1462.0,90.8 L1465.0,90.8 L1468.0,90.8 L1471.0,90.8 L1474.0,90.8 L1477.0,90.8 L1480.0,90.8 L1483.0,90.8 L1486.0,90.8 L1489.0,90.8 L1492.0,90.8 L1495.0,90.8 L1498.0,90.8 L1501.0,90.8 L1504.0,90.8 L1507.0,90.8 L1510.0,90.8 L1513.0,90.8 L1516.0,90.8 L1519.0,90.8 L1522.0,90.8 L1525.0,90.8 L1528.0,90.8 L1531.0,90.8 L1534.0,90.8 L1537.0,90.8 L1540.0,90.8 L1543.0,90.9 L1546.0,90.9 L1549.0,90.9 L1552.0,90.9 L1555.0,90.9 L1558.0,90.9 L1561.0,90.9 L1564.0,90.9 L1567.0,90.9 L1570.0,90.9 L1573.0,90.9 L1576.0,90.9 L1579.0,90.9" fill="none" stroke="#ff1a1f" stroke-opacity="0.75" stroke-width="1.3" stroke-dasharray="3.4,5.1,3.0,3.9,3.5,3.7,3.8,2.1,4.1,5.4,2.5,3.8,4.2,3.6,2.6,2.7,3.5,2.1,4.7,5.2,4.1,5.4,3.9,3.6,3.8,4.0,4.9,5.2,2.8,5.6,4.2,5.1,4.4,3.6,4.7,5.5,4.1,5.1,4.3,3.6,4.2,2.3,3.0,3.9,2.0,3.4,3.9,4.5,2.7,5.8,4.0,3.4,4.0,4.3,3.6,3.6,5.0,4.6,4.1,5.0,4.9,2.1,3.8,5.0,2.8,3.6,2.2,2.8,3.1,2.4,2.8,5.6,3.7,4.0,4.9,4.3,5.0,4.6,4.4,2.3,3.8,5.0,2.1,5.7,2.5,3.9,2.5,4.0,3.8,2.2,4.8,3.7,3.6,4.4,3.1,3.1,4.0,4.2,2.9,4.9,2.9,2.1,2.7,2.2,2.5,5.0,3.2,5.6,4.2,2.2,5.0,5.8,2.2,5.6,3.3,3.9,4.9,3.0"/>
<path d="M2210.0,110.5 L2213.0,110.5 L2216.0,110.5 L2219.0,110.5 L2222.0,110.5 L2225.0,110.5 L2228.0,110.5 L2231.0,110.5 L2234.0,110.5 L2237.0,110.5 L2240.0,110.5 L2243.0,110.5 L2246.0,110.5 L2249.0,110.5 L2252.0,110.5 L2255.0,110.5 L2258.0,110.5 L2261.0,110.5 L2264.0,110.5 L2267.0,110.5 L2270.0,110.5 L2273.0,110.5 L2276.0,110.5 L2279.0,110.5 L2282.0,110.5 L2285.0,110.5 L2288.0,110.5 L2291.0,110.5 L2294.0,110.5 L2297.0,110.5 L2300.0,110.5 L2303.0,110.5 L2306.0,110.5 L2309.0,110.5 L2312.0,110.5 L2315.0,110.5 L2318.0,110.5 L2321.0,110.5 L2324.0,110.5 L2327.0,110.5 L2330.0,110.5 L2333.0,110.5 L2336.0,110.5 L2339.0,110.5 L2342.0,110.5 L2345.0,110.5 L2348.0,110.5 L2351.0,110.5 L2354.0,110.5 L2357.0,110.5 L2360.0,110.5 L2363.0,110.5 L2366.0,110.6 L2369.0,110.6 L2372.0,110.6 L2375.0,110.6 L2378.0,110.6 L2381.0,110.6 L2384.0,110.6 L2387.0,110.6 L2390.0,110.6 L2393.0,110.6 L2396.0,110.6 L2399.0,110.6 L2402.0,110.6 L2405.0,110.6 L2408.0,110.6 L2411.0,110.6 L2414.0,110.6 L2417.0,110.6 L2420.0,110.6 L2423.0,110.6 L2426.0,110.6 L2429.0,110.6 L2432.0,110.6 L2435.0,110.6 L2438.0,110.6 L2441.0,110.6 L2444.0,110.6 L2447.0,110.6 L2450.0,110.6 L2453.0,110.6 L2456.0,110.6 L2459.0,110.6 L2462.0,110.6 L2465.0,110.6 L2468.0,110.6 L2471.0,110.6 L2474.0,110.6 L2477.0,110.6 L2480.0,110.6 L2483.0,110.6 L2486.0,110.6 L2489.0,110.6 L2492.0,110.6 L2495.0,110.6 L2498.0,110.6 L2501.0,110.6 L2504.0,110.6 L2507.0,110.6 L2510.0,110.6 L2513.0,110.6 L2516.0,110.6 L2519.0,110.6 L2522.0,110.6 L2525.0,110.6 L2528.0,110.6 L2531.0,110.6 L2534.0,110.6 L2537.0,110.6 L2540.0,110.6 L2543.0,110.6 L2546.0,110.6 L2549.0,110.6 L2552.0,110.6 L2555.0,110.6 L2558.0,110.6 L2561.0,110.6 L2564.0,110.6 L2567.0,110.6 L2570.0,110.6 L2573.0,110.6 L2576.0,110.6 L2579.0,110.6 L2582.0,110.6 L2585.0,110.6 L2588.0,110.6 L2591.0,110.6 L2594.0,110.6 L2597.0,110.6 L2600.0,110.6 L2603.0,110.6 L2606.0,110.6 L2609.0,110.6 L2612.0,110.6 L2615.0,110.6 L2618.0,110.6 L2621.0,110.6 L2624.0,110.6 L2627.0,110.6 L2630.0,110.6 L2633.0,110.6 L2636.0,110.6 L2639.0,110.6 L2642.0,110.6 L2645.0,110.6 L2648.0,110.6 L2651.0,110.6 L2654.0,110.6 L2657.0,110.6 L2660.0,110.6 L2663.0,110.6 L2666.0,110.6 L2669.0,110.6 L2672.0,110.6 L2675.0,110.6 L2678.0,110.6 L2681.0,110.6 L2684.0,110.6 L2687.0,110.6 L2690.0,110.6 L2693.0,110.6 L2696.0,110.6 L2699.0,110.6 L2701.5,110.6 L2704.8,110.6 L2708.2,110.6 L2711.6,110.6 L2714.9,110.6 L2718.3,110.6 L2721.7,110.6 L2725.0,110.6 L2728.4,110.6 L2731.7,110.6 L2735.1,110.6 L2738.5,110.6 L2741.8,110.6 L2745.2,110.6 L2748.6,110.6 L2751.9,110.7 L2755.3,110.7 L2758.7,110.7 L2762.0,110.8 L2765.4,110.8 L2768.8,110.9 L2772.1,111.0 L2775.5,111.0 L2778.9,111.1 L2782.2,111.2 L2785.6,111.4 L2789.0,111.5 L2792.3,111.6 L2795.7,111.8 L2799.0,111.9 L2802.4,112.1 L2805.8,112.3 L2809.1,112.5 L2812.5,112.8 L2815.8,113.0 L2819.2,113.3 L2822.6,113.6 L2825.9,113.9 L2829.3,114.3 L2832.6,114.6 L2835.9,115.0 L2839.3,115.4 L2842.6,115.9 L2846.0,116.3 L2849.3,116.8 L2852.6,117.4 L2855.9,117.9 L2859.2,118.5 L2862.5,119.2 L2865.8,119.9 L2869.1,120.6 L2872.4,121.3 L2875.7,122.1 L2878.9,123.0 L2882.2,123.8 L2885.4,124.8 L2888.6,125.7" fill="none" stroke="#ff1a1f" stroke-opacity="1.00" stroke-width="1.9" stroke-dasharray="3.2,4.8,3.7,3.0,2.0,3.8,2.7,5.3,3.7,4.6,3.4,4.8,2.4,4.0,2.4,5.7,2.1,5.4,2.2,4.9,2.8,3.9,4.1,2.6,2.2,5.7,3.3,2.8,4.5,5.8,2.3,4.0,2.3,3.6,3.6,3.1,3.7,2.7,2.4,5.4,3.0,4.0,3.5,4.2,3.0,2.6,3.8,5.9,4.4,4.8,2.9,3.8,3.7,4.9,2.3,3.3,2.9,4.3,4.0,4.3,2.1,5.4,3.1,4.3,2.6,4.0,3.0,5.2,2.3,4.4,2.4,4.9,2.1,3.5,2.9,4.7,2.1,4.1,2.5,3.5,3.2,5.9,3.2,5.8,2.4,5.7,2.9,3.2,3.9,5.7,2.0,3.4,3.9,3.7,2.6,2.5,2.1,4.7,4.5,6.0,3.3,2.6,2.8,5.3,4.1,4.7,2.6,4.3,3.2,4.7,2.7,5.8,4.2,3.1,2.7,5.6,2.7,5.8,3.3,4.9,3.8,3.2,2.7,3.4,3.7,4.9,2.3,5.6,3.1,3.3,3.1,5.9,3.4,4.7,4.3,5.9,3.9,4.0,3.5,5.7,4.0,4.5,2.9,3.8,3.8,4.5,2.0,5.0,4.3,5.3,4.2,5.7,3.3,5.3,2.9,2.8,2.9,3.6,4.3,4.9,3.4,4.7,2.3,4.4,3.8,3.9,2.6,3.9,2.8,4.9,2.4,2.8,2.8,4.9,3.9,4.8,4.3,3.8,2.1,4.2,3.1,3.1"/>
<path d="M2210.0,104.7 L2213.0,104.7 L2216.0,104.7 L2219.0,104.7 L2222.0,104.7 L2225.0,104.7 L2228.0,104.7 L2231.0,104.7 L2234.0,104.7 L2237.0,104.7 L2240.0,104.7 L2243.0,104.7 L2246.0,104.7 L2249.0,104.7 L2252.0,104.7 L2255.0,104.7 L2258.0,104.7 L2261.0,104.7 L2264.0,104.7 L2267.0,104.7 L2270.0,104.7 L2273.0,104.7 L2276.0,104.7 L2279.0,104.7 L2282.0,104.7 L2285.0,104.7 L2288.0,104.7 L2291.0,104.7 L2294.0,104.7 L2297.0,104.7 L2300.0,104.7 L2303.0,104.7 L2306.0,104.7 L2309.0,104.7 L2312.0,104.7 L2315.0,104.7 L2318.0,104.7 L2321.0,104.7 L2324.0,104.7 L2327.0,104.7 L2330.0,104.7 L2333.0,104.7 L2336.0,104.7 L2339.0,104.7 L2342.0,104.7 L2345.0,104.7 L2348.0,104.7 L2351.0,104.7 L2354.0,104.7 L2357.0,104.7 L2360.0,104.7 L2363.0,104.7 L2366.0,104.8 L2369.0,104.8 L2372.0,104.8 L2375.0,104.8 L2378.0,104.8 L2381.0,104.8 L2384.0,104.8 L2387.0,104.8 L2390.0,104.8 L2393.0,104.8 L2396.0,104.8 L2399.0,104.8 L2402.0,104.8 L2405.0,104.8 L2408.0,104.8 L2411.0,104.8 L2414.0,104.8 L2417.0,104.8 L2420.0,104.8 L2423.0,104.8 L2426.0,104.8 L2429.0,104.8 L2432.0,104.8 L2435.0,104.8 L2438.0,104.8 L2441.0,104.8 L2444.0,104.8 L2447.0,104.8 L2450.0,104.8 L2453.0,104.8 L2456.0,104.8 L2459.0,104.8 L2462.0,104.8 L2465.0,104.8 L2468.0,104.8 L2471.0,104.8 L2474.0,104.8 L2477.0,104.8 L2480.0,104.8 L2483.0,104.8 L2486.0,104.8 L2489.0,104.8 L2492.0,104.8 L2495.0,104.8 L2498.0,104.8 L2501.0,104.8 L2504.0,104.8 L2507.0,104.8 L2510.0,104.8 L2513.0,104.8 L2516.0,104.8 L2519.0,104.8 L2522.0,104.8 L2525.0,104.8 L2528.0,104.8 L2531.0,104.8 L2534.0,104.8 L2537.0,104.8 L2540.0,104.8 L2543.0,104.8 L2546.0,104.8 L2549.0,104.8 L2552.0,104.8 L2555.0,104.8 L2558.0,104.8 L2561.0,104.8 L2564.0,104.8 L2567.0,104.8 L2570.0,104.8 L2573.0,104.8 L2576.0,104.8 L2579.0,104.8 L2582.0,104.8 L2585.0,104.8 L2588.0,104.8 L2591.0,104.8 L2594.0,104.8 L2597.0,104.8 L2600.0,104.8 L2603.0,104.8 L2606.0,104.8 L2609.0,104.8 L2612.0,104.8 L2615.0,104.8 L2618.0,104.8 L2621.0,104.8 L2624.0,104.8 L2627.0,104.8 L2630.0,104.8 L2633.0,104.8 L2636.0,104.8 L2639.0,104.8 L2642.0,104.8 L2645.0,104.8 L2648.0,104.8 L2651.0,104.8 L2654.0,104.8 L2657.0,104.8 L2660.0,104.8 L2663.0,104.8 L2666.0,104.8 L2669.0,104.8 L2672.0,104.8 L2675.0,104.8 L2678.0,104.8 L2681.0,104.8 L2684.0,104.8 L2687.0,104.8 L2690.0,104.8 L2693.0,104.8 L2696.0,104.8 L2699.0,104.8 L2701.5,104.8 L2704.8,104.8 L2708.2,104.8 L2711.6,104.8 L2714.9,104.8 L2718.3,104.8 L2721.7,104.8 L2725.0,104.8 L2728.4,104.8 L2731.7,104.8 L2735.1,104.8 L2738.5,104.8 L2741.8,104.8 L2745.2,104.8 L2748.6,104.8 L2751.9,104.9 L2755.3,104.9 L2758.7,104.9 L2762.0,105.0 L2765.4,105.0 L2768.8,105.1 L2772.1,105.2 L2775.5,105.2 L2778.9,105.3 L2782.2,105.4 L2785.6,105.6 L2789.0,105.7 L2792.3,105.8 L2795.7,106.0 L2799.0,106.1 L2802.4,106.3 L2805.8,106.5 L2809.1,106.7 L2812.5,107.0 L2815.8,107.2 L2819.2,107.5 L2822.6,107.8 L2825.9,108.1 L2829.3,108.5 L2832.6,108.8 L2835.9,109.2 L2839.3,109.6 L2842.6,110.1 L2846.0,110.5 L2849.3,111.0 L2852.6,111.6 L2855.9,112.1 L2859.2,112.7 L2862.5,113.4 L2865.8,114.1 L2869.1,114.8 L2872.4,115.5 L2875.7,116.3 L2878.9,117.2 L2882.2,118.0 L2885.4,119.0 L2888.6,119.9" fill="none" stroke="#ff1a1f" stroke-opacity="0.75" stroke-width="1.3" stroke-dasharray="4.0,3.4,2.7,3.3,4.8,2.0,3.1,3.1,2.6,3.7,2.7,5.7,3.5,4.8,2.5,3.9,3.8,5.4,2.7,3.8,4.6,5.3,2.7,4.2,4.3,3.6,4.0,4.7,4.9,4.2,4.0,3.4,4.2,3.3,3.5,3.4,2.9,2.5,2.7,4.2,2.8,2.2,4.4,3.1,4.8,4.4,3.2,5.5,4.7,3.3,2.4,4.6,4.5,4.4,4.4,3.6,3.9,3.1,3.2,3.5,3.2,3.6,4.4,2.7,2.6,3.0,4.9,4.1,2.2,5.3,4.6,5.3,3.1,4.9,2.9,2.5,4.6,5.3,2.6,5.5,2.1,3.2,2.0,2.7,2.5,4.9,2.9,2.8,2.6,3.2,4.6,4.4,2.3,4.7,3.6,3.8,3.6,4.6,4.4,4.0,3.9,3.9,3.9,3.6,3.2,4.1,4.1,3.1,4.8,4.0,4.6,4.8,4.9,4.7,3.3,3.6,3.8,5.0,4.5,2.5,2.2,2.4,2.3,2.2,2.0,3.0,2.3,4.7,3.8,5.9,4.9,5.0,4.8,2.1,2.7,5.7,3.4,2.8,4.3,3.7,3.6,3.3,2.7,2.3,3.8,5.8,5.0,5.1,4.8,3.4,2.9,5.7,3.8,4.7,2.0,2.9,3.4,4.9,4.5,5.0,3.0,3.5,4.6,6.0,3.5,2.8,3.9,4.1,3.1,2.9,3.2,4.4,2.4,4.2,4.9,5.0,2.8,3.7,2.3,4.9,3.9,2.7"/>
<path d="M3157.3,121.1 L3160.5,120.2 L3163.6,119.3 L3166.8,118.4 L3170.0,117.7 L3173.2,117.0 L3176.5,116.3 L3179.7,115.7 L3183.0,115.2 L3186.2,114.7 L3189.5,114.2 L3192.7,113.8 L3196.0,113.4 L3199.3,113.1 L3202.6,112.8 L3205.8,112.5 L3209.1,112.3 L3212.4,112.1 L3215.7,111.9 L3219.0,111.7 L3222.3,111.6 L3225.6,111.4 L3228.8,111.3 L3232.1,111.2 L3235.4,111.1 L3238.7,111.1 L3242.0,111.0 L3245.3,111.0 L3248.6,110.9 L3251.9,110.9 L3255.2,110.9 L3258.5,110.9 L3261.8,110.9 L3265.1,110.9 L3268.3,110.9 L3271.6,110.9 L3274.9,111.0 L3278.2,111.0 L3281.5,111.0 L3284.8,111.0 L3288.1,111.0 L3291.4,111.0 L3294.7,111.0 L3298.0,111.0 L3300.0,111.0 L3303.0,111.0 L3306.0,111.0 L3309.0,111.0 L3312.0,111.0 L3315.0,111.0 L3318.0,111.0 L3321.0,111.0 L3324.0,111.0 L3327.0,111.0 L3330.0,111.0 L3333.0,111.0 L3336.0,111.0 L3339.0,111.0 L3342.0,111.0 L3345.0,111.0 L3348.0,111.0 L3351.0,111.0 L3354.0,111.0 L3357.0,111.0 L3360.0,111.0 L3363.0,111.0 L3366.0,111.0 L3369.0,111.0 L3372.0,111.0 L3375.0,111.0 L3378.0,111.0 L3381.0,111.0 L3384.0,111.0 L3387.0,111.0 L3390.0,111.0 L3393.0,111.0 L3396.0,111.0 L3399.0,111.0 L3402.0,110.9 L3405.0,110.9 L3408.0,110.9 L3411.0,110.9 L3414.0,110.9 L3417.0,110.9 L3420.0,110.9 L3423.0,110.9 L3426.0,110.9 L3429.0,110.9 L3432.0,110.9 L3435.0,110.9 L3438.0,110.9 L3441.0,110.9 L3444.0,110.9 L3447.0,110.9 L3450.0,110.9 L3453.0,110.9 L3456.0,110.9 L3459.0,110.9 L3462.0,110.9 L3465.0,110.9 L3468.0,110.9 L3471.0,110.9 L3474.0,110.9 L3477.0,110.9 L3480.0,110.9 L3483.0,110.9 L3486.0,110.9 L3489.0,110.9 L3492.0,110.9 L3495.0,110.9 L3498.0,110.9 L3501.0,110.9 L3504.0,110.9 L3507.0,110.9 L3510.0,110.9" fill="none" stroke="#ff1a1f" stroke-opacity="1.00" stroke-width="1.9" stroke-dasharray="3.4,4.6,3.4,3.8,2.8,3.7,4.5,3.7,3.3,4.1,2.4,3.9,2.5,3.6,2.9,3.7,4.3,3.5,2.8,4.8,3.0,4.3,3.6,2.8,3.7,2.9,2.6,5.3,4.5,4.9,2.4,4.0,2.7,5.4,2.6,3.2,3.6,4.7,3.5,4.2,4.4,4.1,4.3,3.9,3.2,3.8,3.8,5.1,2.6,4.3,3.8,4.3,3.7,4.7,3.8,3.7,2.8,2.6,4.2,5.3,3.0,5.9,4.3,3.0,4.1,4.0,2.8,3.4,3.0,2.7,2.1,2.9,2.8,3.1,2.3,5.4,2.9,4.2,3.5,5.8,2.4,3.3,4.2,5.7,4.3,4.3,2.9,3.2,4.3,5.2,3.4,5.3,2.7,4.4,4.3,2.9"/>
<path d="M3157.3,115.3 L3160.5,114.4 L3163.6,113.5 L3166.8,112.6 L3170.0,111.9 L3173.2,111.2 L3176.5,110.5 L3179.7,109.9 L3183.0,109.4 L3186.2,108.9 L3189.5,108.4 L3192.7,108.0 L3196.0,107.6 L3199.3,107.3 L3202.6,107.0 L3205.8,106.7 L3209.1,106.5 L3212.4,106.3 L3215.7,106.1 L3219.0,105.9 L3222.3,105.8 L3225.6,105.6 L3228.8,105.5 L3232.1,105.4 L3235.4,105.3 L3238.7,105.3 L3242.0,105.2 L3245.3,105.2 L3248.6,105.1 L3251.9,105.1 L3255.2,105.1 L3258.5,105.1 L3261.8,105.1 L3265.1,105.1 L3268.3,105.1 L3271.6,105.1 L3274.9,105.2 L3278.2,105.2 L3281.5,105.2 L3284.8,105.2 L3288.1,105.2 L3291.4,105.2 L3294.7,105.2 L3298.0,105.2 L3300.0,105.2 L3303.0,105.2 L3306.0,105.2 L3309.0,105.2 L3312.0,105.2 L3315.0,105.2 L3318.0,105.2 L3321.0,105.2 L3324.0,105.2 L3327.0,105.2 L3330.0,105.2 L3333.0,105.2 L3336.0,105.2 L3339.0,105.2 L3342.0,105.2 L3345.0,105.2 L3348.0,105.2 L3351.0,105.2 L3354.0,105.2 L3357.0,105.2 L3360.0,105.2 L3363.0,105.2 L3366.0,105.2 L3369.0,105.2 L3372.0,105.2 L3375.0,105.2 L3378.0,105.2 L3381.0,105.2 L3384.0,105.2 L3387.0,105.2 L3390.0,105.2 L3393.0,105.2 L3396.0,105.2 L3399.0,105.2 L3402.0,105.1 L3405.0,105.1 L3408.0,105.1 L3411.0,105.1 L3414.0,105.1 L3417.0,105.1 L3420.0,105.1 L3423.0,105.1 L3426.0,105.1 L3429.0,105.1 L3432.0,105.1 L3435.0,105.1 L3438.0,105.1 L3441.0,105.1 L3444.0,105.1 L3447.0,105.1 L3450.0,105.1 L3453.0,105.1 L3456.0,105.1 L3459.0,105.1 L3462.0,105.1 L3465.0,105.1 L3468.0,105.1 L3471.0,105.1 L3474.0,105.1 L3477.0,105.1 L3480.0,105.1 L3483.0,105.1 L3486.0,105.1 L3489.0,105.1 L3492.0,105.1 L3495.0,105.1 L3498.0,105.1 L3501.0,105.1 L3504.0,105.1 L3507.0,105.1 L3510.0,105.1" fill="none" stroke="#ff1a1f" stroke-opacity="0.75" stroke-width="1.3" stroke-dasharray="3.9,2.7,4.5,5.4,3.9,3.7,2.1,4.0,3.1,3.6,2.2,5.7,3.6,4.2,4.5,5.6,3.6,4.2,4.5,3.5,4.7,2.1,4.4,4.1,3.9,6.0,2.7,3.6,4.4,5.0,3.6,5.1,4.0,5.5,4.0,3.5,2.9,2.3,2.4,2.2,4.9,2.6,3.8,2.5,4.9,4.1,2.5,5.3,4.6,5.9,2.7,3.6,4.0,3.1,3.7,4.8,4.3,5.3,4.3,3.1,4.3,3.7,2.5,2.1,3.9,3.4,2.3,4.0,3.2,3.3,3.7,4.2,3.6,5.9,4.7,3.2,4.6,3.3,4.8,2.2,3.0,5.7,4.0,4.8,2.6,2.5,4.9,2.3,2.5,3.7,4.5,4.7,5.0,5.1"/>
<line x1="1599.50" y1="3.80" x2="1599.50" y2="1043.00" stroke="#ff1a1f" stroke-width="4.80"/>
<line x1="3530.40" y1="4.10" x2="3530.40" y2="1042.90" stroke="#ff1a1f" stroke-width="4.80"/>
<line x1="720.00" y1="122.40" x2="720.00" y2="903.50" stroke="#0b0b0b" stroke-width="3.8"/>
<polygon points="720.00,102.40 711.40,135.40 728.60,135.40" fill="#0b0b0b"/>
<polygon points="720.00,923.50 711.40,889.50 728.60,889.50" fill="#0b0b0b"/>
<line x1="2589.60" y1="136.70" x2="2589.60" y2="886.00" stroke="#0b0b0b" stroke-width="3.8"/>
<polygon points="2589.60,116.70 2581.00,146.70 2598.20,146.70" fill="#0b0b0b"/>
<polygon points="2589.60,906.00 2581.00,875.70 2598.20,875.70" fill="#0b0b0b"/>
<text x="479.76" y="517.20" fill="#0b0b0b" font-size="66.67" text-anchor="start">87.40%</text>
<text x="2358.16" y="516.70" fill="#0b0b0b" font-size="66.67" text-anchor="start">86.94%</text>
<text x="1055.11" y="998.20" fill="#ff1a1f" font-size="66.67" text-anchor="start">349.75</text>
<circle cx="1274.00" cy="959.00" r="8.20" fill="none" stroke="#ff1a1f" stroke-width="2.20"/>
<text transform="translate(1278.70,998.20) scale(0.877,1)" fill="#ff1a1f" font-size="66.67">C</text>
<text x="2952.11" y="978.00" fill="#ff1a1f" font-size="66.67" text-anchor="start">350.75</text>
<circle cx="3170.90" cy="939.20" r="8.20" fill="none" stroke="#ff1a1f" stroke-width="2.20"/>
<text transform="translate(3175.60,978.00) scale(0.877,1)" fill="#ff1a1f" font-size="66.67">C</text>
<text x="729.20" y="1212.50" fill="#0b0b0b" font-size="66.67" text-anchor="start">Temperature/</text>
<circle cx="1099.60" cy="1173.20" r="8.20" fill="none" stroke="#0b0b0b" stroke-width="2.20"/>
<text transform="translate(1104.30,1212.50) scale(0.877,1)" fill="#0b0b0b" font-size="66.67">C</text>
<text x="2658.90" y="1211.90" fill="#0b0b0b" font-size="66.67" text-anchor="start">Temperature/</text>
<circle cx="3029.30" cy="1172.60" r="8.20" fill="none" stroke="#0b0b0b" stroke-width="2.20"/>
<text transform="translate(3034.00,1211.90) scale(0.877,1)" fill="#0b0b0b" font-size="66.67">C</text>
<text x="232.97" y="1312.20" fill="#0b0b0b" font-size="66.67" text-anchor="start" letter-spacing="0.167">(a) TG-DTG curves of ANPyO@PDA-3h composite</text>
<text x="2161.07" y="1312.20" fill="#0b0b0b" font-size="66.67" text-anchor="start" letter-spacing="0.19">(b) TG-DTG curves of ANPyO@PDA-9h composite</text>
<text transform="translate(85.30,743.20) rotate(-90)" fill="#0b0b0b" font-size="66.67">Mass fraction/%</text>
<text transform="translate(2016.10,743.20) rotate(-90)" fill="#0b0b0b" font-size="66.67">Mass fraction/%</text>
<g transform="translate(1798.00,715.70) rotate(-90)" fill="#ff1a1f">
<text x="0" y="0" font-size="66.67">DTG/(%&#183;</text>
<circle cx="273.55" cy="-38.75" r="8.2" fill="none" stroke="#ff1a1f" stroke-width="2.2"/>
<text transform="translate(278.90,0) scale(0.878,1)" font-size="66.67">C</text>
<line x1="323.1" y1="-35.1" x2="344" y2="-35.1" stroke="#ff1a1f" stroke-width="2.1"/>
<text x="345.47" y="-22.8" font-size="33.33">1</text>
<text x="363.85" y="0" font-size="66.67">)</text>
</g>
<g transform="translate(3729.00,715.70) rotate(-90)" fill="#ff1a1f">
<text x="0" y="0" font-size="66.67">DTG/(%&#183;</text>
<circle cx="273.55" cy="-38.75" r="8.2" fill="none" stroke="#ff1a1f" stroke-width="2.2"/>
<text transform="translate(278.90,0) scale(0.878,1)" font-size="66.67">C</text>
<line x1="323.1" y1="-35.1" x2="344" y2="-35.1" stroke="#ff1a1f" stroke-width="2.1"/>
<text x="345.47" y="-22.8" font-size="33.33">1</text>
<text x="363.85" y="0" font-size="66.67">)</text>
</g>
</svg>
</body></html>
